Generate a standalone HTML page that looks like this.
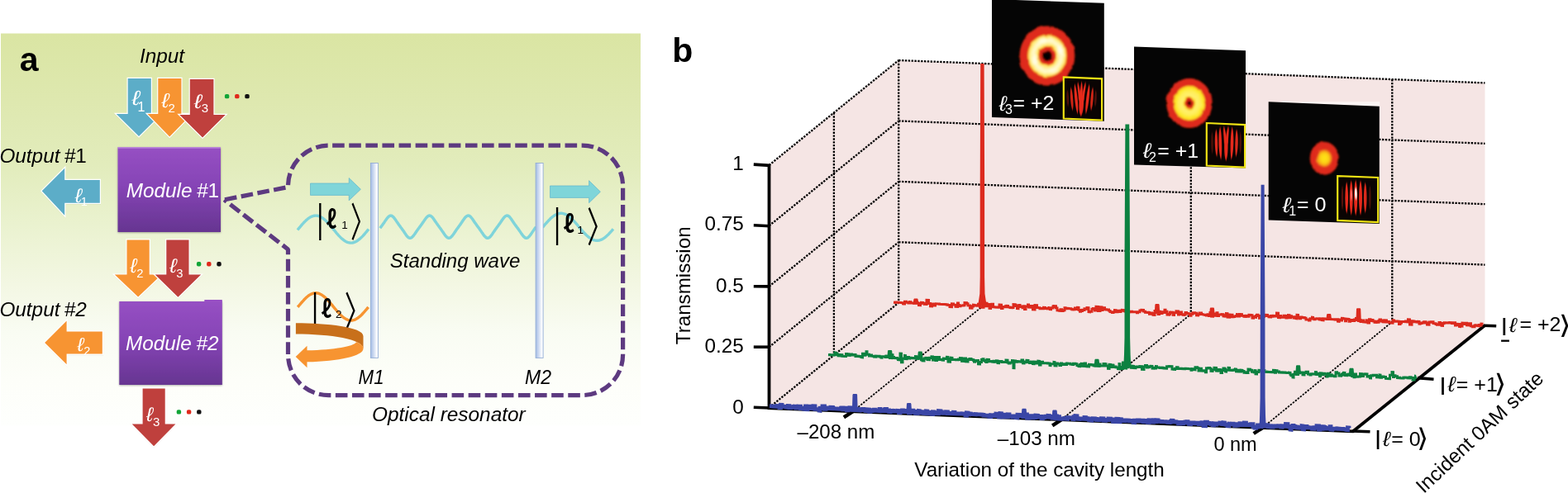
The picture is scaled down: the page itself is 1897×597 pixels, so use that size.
<!DOCTYPE html>
<html lang="en"><head><meta charset="utf-8"><title>Figure</title>
<style>
html,body{margin:0;padding:0;background:#fff;}
body{width:1897px;height:597px;overflow:hidden;}
svg{display:block;}
svg text{font-family:"Liberation Sans","DejaVu Sans",sans-serif;}
.ar{stroke:#fff;stroke-width:2.4;stroke-linejoin:miter;paint-order:stroke fill;}
</style></head><body>
<svg width="1897" height="597" viewBox="0 0 1897 597">
<defs>
<linearGradient id="bg" x1="0" y1="0" x2="0" y2="1">
 <stop offset="0" stop-color="#dae5a3"/>
 <stop offset="0.17" stop-color="#dee8af"/>
 <stop offset="0.336" stop-color="#e2ecbc"/>
 <stop offset="0.485" stop-color="#eaf2cf"/>
 <stop offset="0.641" stop-color="#f3f7e3"/>
 <stop offset="0.763" stop-color="#f9fcf3"/>
 <stop offset="0.883" stop-color="#fdfef9"/>
 <stop offset="1" stop-color="#fefffd"/>
</linearGradient>
<linearGradient id="mod" x1="0" y1="0" x2="0" y2="1">
 <stop offset="0" stop-color="#9650c3"/>
 <stop offset="0.45" stop-color="#8644b6"/>
 <stop offset="1" stop-color="#663591"/>
</linearGradient>
<linearGradient id="mir" x1="0" y1="0" x2="1" y2="0">
 <stop offset="0" stop-color="#a2bbe4"/>
 <stop offset="0.45" stop-color="#d3def3"/>
 <stop offset="0.85" stop-color="#ffffff"/>
 <stop offset="1" stop-color="#f2f6fc"/>
</linearGradient>
<filter id="sh" x="-20%" y="-20%" width="140%" height="140%">
 <feDropShadow dx="0" dy="0.6" stdDeviation="0.7" flood-color="#000" flood-opacity="0.07"/>
</filter>
<filter id="sh2" x="-20%" y="-20%" width="140%" height="140%">
 <feDropShadow dx="0" dy="0.8" stdDeviation="0.8" flood-color="#000" flood-opacity="0.35"/>
</filter>
<clipPath id="cl1"><rect x="78" y="217.8" width="43.4" height="28.2"/></clipPath>
<clipPath id="cl2"><rect x="80" y="401.4" width="43" height="26.8"/></clipPath>

<filter id="blur1" x="-20%" y="-20%" width="140%" height="140%"><feGaussianBlur stdDeviation="1.1"/></filter>
<filter id="blur2" x="-20%" y="-20%" width="140%" height="140%"><feGaussianBlur stdDeviation="0.55 1.0"/></filter>
<filter id="blur3" x="-50%" y="-50%" width="200%" height="200%"><feGaussianBlur stdDeviation="1.6"/></filter>
<filter id="rough" x="-15%" y="-15%" width="130%" height="130%">
 <feTurbulence type="fractalNoise" baseFrequency="0.13" numOctaves="2" seed="7" result="n"/>
 <feDisplacementMap in="SourceGraphic" in2="n" scale="3" xChannelSelector="R" yChannelSelector="G"/>
 <feGaussianBlur stdDeviation="0.9"/>
</filter>
<radialGradient id="g2" cx="0.5" cy="0.5" r="0.5">
 <stop offset="0" stop-color="#050202"/>
 <stop offset="0.15" stop-color="#080302"/>
 <stop offset="0.185" stop-color="#c81e0e"/>
 <stop offset="0.21" stop-color="#e02a1a"/>
 <stop offset="0.285" stop-color="#e02a1a"/>
 <stop offset="0.31" stop-color="#f59a28"/>
 <stop offset="0.335" stop-color="#ffe050"/>
 <stop offset="0.40" stop-color="#fff09a"/>
 <stop offset="0.50" stop-color="#fffad2"/>
 <stop offset="0.58" stop-color="#fff3a0"/>
 <stop offset="0.645" stop-color="#fee260"/>
 <stop offset="0.68" stop-color="#f7a52c"/>
 <stop offset="0.71" stop-color="#e02a1a"/>
 <stop offset="0.94" stop-color="#de2a1a"/>
 <stop offset="0.97" stop-color="#a81c10"/>
 <stop offset="1" stop-color="#200503" stop-opacity="0"/>
</radialGradient>
<radialGradient id="g1" cx="0.5" cy="0.5" r="0.5">
 <stop offset="0" stop-color="#0a0302"/>
 <stop offset="0.05" stop-color="#1a0403"/>
 <stop offset="0.09" stop-color="#c81e0e"/>
 <stop offset="0.18" stop-color="#e02a1a"/>
 <stop offset="0.205" stop-color="#f59a28"/>
 <stop offset="0.235" stop-color="#fde030"/>
 <stop offset="0.30" stop-color="#fff070"/>
 <stop offset="0.46" stop-color="#ffee58"/>
 <stop offset="0.58" stop-color="#fde828"/>
 <stop offset="0.64" stop-color="#fcd820"/>
 <stop offset="0.67" stop-color="#f59a28"/>
 <stop offset="0.70" stop-color="#e02a1a"/>
 <stop offset="0.93" stop-color="#de2a1a"/>
 <stop offset="0.96" stop-color="#a81c10"/>
 <stop offset="1" stop-color="#200503" stop-opacity="0"/>
</radialGradient>
<radialGradient id="g0" cx="0.5" cy="0.5" r="0.5">
 <stop offset="0" stop-color="#ffe414"/>
 <stop offset="0.25" stop-color="#fcd414"/>
 <stop offset="0.38" stop-color="#f8b018"/>
 <stop offset="0.47" stop-color="#f0701c"/>
 <stop offset="0.54" stop-color="#e02e1a"/>
 <stop offset="0.88" stop-color="#de2a1a"/>
 <stop offset="0.95" stop-color="#a81c10"/>
 <stop offset="1" stop-color="#200503" stop-opacity="0"/>
</radialGradient>
<clipPath id="ic1"><rect x="1288" y="95.5" width="44" height="49"/></clipPath>
<clipPath id="ic2"><rect x="1461" y="151" width="44" height="50"/></clipPath>
<clipPath id="ic3"><rect x="1619.4" y="215.5" width="46.6" height="52"/></clipPath>
</defs>
<g id="panel-a">
<rect x="1" y="40.5" width="774" height="475" fill="url(#bg)"/>
<text x="23.8" y="85.6" font-size="41" font-weight="bold">a</text>
<text x="169" y="76.4" font-size="24.3" font-style="italic">Input</text>
<g filter="url(#sh)">
<polygon class="ar" fill="#5badc8" points="154.7,95.0 182.8,95.0 182.8,138.0 195.3,138.0 168.0,165.0 140.7,138.0 154.7,138.0"/>
<polygon class="ar" fill="#f79431" points="191.3,95.0 219.4,95.0 219.4,138.0 232.0,138.0 205.2,165.5 178.5,138.0 191.3,138.0"/>
<polygon class="ar" fill="#bf403c" points="229.8,96.0 258.4,96.0 258.4,139.0 272.8,139.0 245.0,166.5 217.2,139.0 229.8,139.0"/>
</g>
<text transform="translate(159.40,127.05) scale(0.998,0.819)" style='font-family:"Liberation Sans","DejaVu Sans",sans-serif;font-style:italic' font-size="30" fill="#fff" >ℓ</text><text x="166.6" y="134.8" fill="#fff" font-size="16">1</text>
<text transform="translate(195.60,130.05) scale(0.923,0.819)" style='font-family:"Liberation Sans","DejaVu Sans",sans-serif;font-style:italic' font-size="30" fill="#fff" >ℓ</text><text x="203.6" y="135.5" fill="#fff" font-size="15">2</text>
<text transform="translate(234.80,130.86) scale(0.989,0.786)" style='font-family:"Liberation Sans","DejaVu Sans",sans-serif;font-style:italic' font-size="30" fill="#fff" >ℓ</text><text x="243.8" y="135.5" fill="#fff" font-size="15">3</text>
<rect x="271.9" y="113.9" width="5.4" height="5.4" rx="1.9" fill="#12a537"/><rect x="284.1" y="113.9" width="5.4" height="5.4" rx="1.9" fill="#e0291b"/><rect x="296.3" y="113.9" width="5.4" height="5.4" rx="1.9" fill="#111111"/>
<text x="-0.55" y="196.7" font-size="24.3" font-style="italic">Output</text><text x="77.7" y="196.7" font-size="24.3" font-style="italic">#<tspan font-style="normal">1</tspan></text>
<g filter="url(#sh)">
<polygon class="ar" fill="#5badc8" points="50.7,231.3 78.2,203.7 78.2,218.0 120.8,218.0 120.8,245.7 78.2,245.7 78.2,260.7"/>
</g>
<text transform="translate(90.70,245.15) scale(0.838,0.795)" style='font-family:"Liberation Sans","DejaVu Sans",sans-serif;font-style:italic' font-size="30" fill="#fff" >ℓ</text><text x="97.8" y="249.3" fill="#fff" font-size="14.5">1</text>
<rect x="142.5" y="178.3" width="124.5" height="102.7" fill="url(#mod)" filter="url(#sh2)"/>
<rect x="142.5" y="178.3" width="124.5" height="1.3" fill="#c08ee2"/>
<text x="152.75" y="239.4" fill="#fff" font-size="24.3" font-style="italic">Module</text><text x="237.9" y="239.4" fill="#fff" font-size="24.3" font-style="italic">#<tspan font-style="normal">1</tspan></text>
<g filter="url(#sh)">
<polygon class="ar" fill="#f79431" points="153.5,290.4 180.7,290.4 180.7,332.6 195.5,332.6 167.1,359.5 138.7,332.6 153.5,332.6"/>
<polygon class="ar" fill="#bf403c" points="201.3,290.4 228.5,290.4 228.5,332.6 243.2,332.6 215.4,359.8 187.6,332.6 201.3,332.6"/>
</g>
<text transform="translate(157.50,330.15) scale(0.819,0.814)" style='font-family:"Liberation Sans","DejaVu Sans",sans-serif;font-style:italic' font-size="30" fill="#fff" >ℓ</text><text x="165.3" y="335.7" fill="#fff" font-size="14.8">2</text>
<text transform="translate(205.30,330.15) scale(0.857,0.800)" style='font-family:"Liberation Sans","DejaVu Sans",sans-serif;font-style:italic' font-size="30" fill="#fff" >ℓ</text><text x="213.3" y="335.7" fill="#fff" font-size="14.8">3</text>
<rect x="237.9" y="317.1" width="5.4" height="5.4" rx="1.9" fill="#12a537"/><rect x="250.1" y="317.1" width="5.4" height="5.4" rx="1.9" fill="#e0291b"/><rect x="262.3" y="317.1" width="5.4" height="5.4" rx="1.9" fill="#111111"/>
<text x="-0.55" y="382.8" font-size="24.3" font-style="italic">Output</text><text x="77.7" y="382.8" font-size="24.3" font-style="italic">#2</text>
<g filter="url(#sh)">
<polygon class="ar" fill="#f79431" points="54.1,414.9 80.6,388.4 80.6,401.4 123.8,401.4 123.8,428.6 80.6,428.6 80.6,441.3"/>
</g>
<text transform="translate(93.60,424.66) scale(0.819,0.772)" style='font-family:"Liberation Sans","DejaVu Sans",sans-serif;font-style:italic' font-size="30" fill="#fff" >ℓ</text><text x="101.3" y="430.0" fill="#fff" font-size="14.5">2</text>
<rect x="144.3" y="365" width="124.5" height="101" fill="url(#mod)" filter="url(#sh2)"/>
<rect x="247.3" y="363" width="21.5" height="3" fill="#9850c4"/>
<text x="152.05" y="423.8" fill="#fff" font-size="24.3" font-style="italic">Module</text><text x="237.4" y="423.8" fill="#fff" font-size="24.3" font-style="italic">#2</text>
<g filter="url(#sh)">
<polygon class="ar" fill="#bf403c" points="172.6,470.6 199.7,470.6 199.7,513.5 212.4,513.5 186.1,540.3 159.7,513.5 172.6,513.5"/>
</g>
<text transform="translate(176.90,509.75) scale(0.819,0.795)" style='font-family:"Liberation Sans","DejaVu Sans",sans-serif;font-style:italic' font-size="30" fill="#fff" >ℓ</text><text x="185.1" y="515.9" fill="#fff" font-size="15">3</text>
<rect x="213.7" y="496.2" width="5.4" height="5.4" rx="1.9" fill="#12a537"/><rect x="225.9" y="496.2" width="5.4" height="5.4" rx="1.9" fill="#e0291b"/><rect x="238.1" y="496.2" width="5.4" height="5.4" rx="1.9" fill="#111111"/>
<path d="M271.3,241.9 L348.5,226.5 L348.5,225.2 A49,49 0 0 1 397.5,176.2 L704.6,176.2 A49,49 0 0 1 753.6,225.2 L753.6,429.6 A49,49 0 0 1 704.6,478.6 L397.5,478.6 A49,49 0 0 1 348.5,429.6 L348.5,302 Z" fill="none" stroke="#5d3a80" stroke-width="5.2" stroke-dasharray="14.6 5.5" stroke-dashoffset="19.4" stroke-linejoin="bevel"/>
<polyline fill="none" stroke="#7fd4da" stroke-width="3.4" stroke-linejoin="round" points="360.0,278.5 361.0,277.2 362.0,276.0 363.0,274.9 364.0,273.7 364.9,272.5 365.9,271.4 366.9,270.3 367.9,269.2 368.9,268.2 369.9,267.3 370.9,266.3 371.9,265.5 372.9,264.7 373.8,264.0 374.8,263.4 375.8,262.8 376.8,262.3 377.8,261.9 378.8,261.6 379.8,261.3 380.8,261.2 381.7,261.1 382.7,261.1 383.7,261.2 384.7,261.4 385.7,261.7 386.7,262.1 387.7,262.5 388.7,263.1 389.7,263.7 390.6,264.3 391.6,265.1 392.6,265.9 393.6,266.8 394.6,267.7 395.6,268.7 396.6,269.7 397.6,270.8 398.6,271.9 399.5,273.1 400.5,274.3 401.5,275.4 402.5,276.6 403.5,277.8 404.5,279.0 405.5,280.2 406.5,281.4 407.4,282.6 408.4,283.7 409.4,284.8 410.4,285.9 411.4,286.9 412.4,287.9 413.4,288.8 414.4,289.6 415.4,290.4 416.3,291.1 417.3,291.8 418.3,292.4 419.3,292.9 420.3,293.3 421.3,293.6 422.3,293.9 423.3,294.0 424.3,294.1 425.2,294.1 426.2,294.0 427.2,293.8 428.2,293.5 429.2,293.2 430.2,292.7 431.2,292.2 432.2,291.6 433.1,290.9 434.1,290.2 435.1,289.4 436.1,288.5 437.1,287.6 438.1,286.6 439.1,285.6 440.1,284.5 441.1,283.4 442.0,282.2 443.0,281.1 444.0,279.9 445.0,278.7 446.0,277.5"/>
<polyline fill="none" stroke="#7fd4da" stroke-width="3.5" stroke-linejoin="round" points="459.8,276.3 460.8,274.9 461.8,273.6 462.8,272.2 463.8,270.8 464.8,269.4 465.8,267.9 466.8,266.4 467.8,265.0 468.8,263.7 469.8,262.6 470.8,261.8 471.8,261.3 472.8,261.1 473.8,261.3 474.8,261.9 475.8,262.8 476.8,263.9 477.8,265.2 478.8,266.6 479.8,268.1 480.8,269.6 481.8,271.0 482.8,272.4 483.8,273.8 484.8,275.2 485.8,276.5 486.8,277.9 487.8,279.3 488.8,280.8 489.8,282.3 490.8,283.7 491.7,285.1 492.7,286.3 493.7,287.3 494.7,287.9 495.7,288.3 496.7,288.2 497.7,287.8 498.7,287.1 499.7,286.1 500.7,284.8 501.7,283.5 502.7,282.0 503.7,280.5 504.7,279.1 505.7,277.6 506.7,276.3 507.7,274.9 508.7,273.6 509.7,272.2 510.7,270.8 511.7,269.3 512.7,267.9 513.7,266.4 514.7,265.0 515.7,263.7 516.7,262.6 517.7,261.8 518.7,261.2 519.7,261.1 520.7,261.3 521.7,261.9 522.7,262.8 523.7,263.9 524.7,265.2 525.7,266.7 526.7,268.2 527.7,269.6 528.7,271.1 529.7,272.5 530.7,273.8 531.7,275.2 532.7,276.5 533.7,277.9 534.7,279.4 535.7,280.8 536.7,282.3 537.7,283.8 538.7,285.1 539.7,286.3 540.7,287.3 541.7,287.9 542.7,288.3 543.7,288.2 544.7,287.8 545.7,287.1 546.7,286.1 547.7,284.8 548.7,283.4 549.7,282.0 550.7,280.5 551.7,279.0 552.7,277.6 553.7,276.2 554.6,274.9 555.6,273.5 556.6,272.2 557.6,270.7 558.6,269.3 559.6,267.8 560.6,266.3 561.6,264.9 562.6,263.6 563.6,262.6 564.6,261.7 565.6,261.2 566.6,261.1 567.6,261.3 568.6,261.9 569.6,262.8 570.6,264.0 571.6,265.3 572.6,266.7 573.6,268.2 574.6,269.7 575.6,271.1 576.6,272.5 577.6,273.9 578.6,275.2 579.6,276.6 580.6,278.0 581.6,279.4 582.6,280.9 583.6,282.3 584.6,283.8 585.6,285.2 586.6,286.3 587.6,287.3 588.6,288.0 589.6,288.3 590.6,288.2 591.6,287.8 592.6,287.1 593.6,286.0 594.6,284.8 595.6,283.4 596.6,281.9 597.6,280.4 598.6,279.0 599.6,277.6 600.6,276.2 601.6,274.8 602.6,273.5 603.6,272.1 604.6,270.7 605.6,269.3 606.6,267.8 607.6,266.3 608.6,264.9 609.6,263.6 610.6,262.5 611.6,261.7 612.6,261.2 613.6,261.1 614.6,261.3 615.6,261.9 616.6,262.8 617.5,264.0 618.5,265.3 619.5,266.8 620.5,268.2 621.5,269.7 622.5,271.2 623.5,272.6 624.5,273.9 625.5,275.3 626.5,276.6 627.5,278.0 628.5,279.4 629.5,280.9 630.5,282.4 631.5,283.8 632.5,285.2 633.5,286.4 634.5,287.3 635.5,288.0 636.5,288.3 637.5,288.2 638.5,287.8 639.5,287.0 640.5,286.0 641.5,284.7 642.5,283.4 643.5,281.9 644.5,280.4 645.5,278.9 646.5,277.5 647.5,276.1 648.5,274.8"/>
<polyline fill="none" stroke="#7fd4da" stroke-width="3.4" stroke-linejoin="round" points="656.5,275.3 657.5,274.1 658.5,272.9 659.5,271.7 660.5,270.6 661.5,269.5 662.5,268.4 663.5,267.3 664.5,266.3 665.4,265.3 666.4,264.3 667.4,263.4 668.4,262.6 669.4,261.9 670.4,261.2 671.4,260.5 672.4,260.0 673.4,259.5 674.4,259.1 675.4,258.8 676.4,258.5 677.4,258.4 678.4,258.3 679.4,258.3 680.4,258.4 681.4,258.6 682.3,258.9 683.3,259.2 684.3,259.6 685.3,260.1 686.3,260.7 687.3,261.4 688.3,262.1 689.3,262.9 690.3,263.7 691.3,264.6 692.3,265.6 693.3,266.6 694.3,267.6 695.3,268.7 696.3,269.8 697.3,271.0 698.3,272.1 699.2,273.3 700.2,274.5 701.2,275.7 702.2,276.9 703.2,278.0 704.2,279.2 705.2,280.3 706.2,281.4 707.2,282.5 708.2,283.5 709.2,284.5 710.2,285.4 711.2,286.3 712.2,287.1 713.2,287.9 714.2,288.5 715.2,289.2 716.2,289.7 717.1,290.2 718.1,290.6 719.1,290.9 720.1,291.1 721.1,291.2 722.1,291.3 723.1,291.3 724.1,291.2 725.1,291.0 726.1,290.7 727.1,290.3 728.1,289.9 729.1,289.4 730.1,288.8 731.1,288.1 732.1,287.4 733.1,286.6 734.0,285.7 735.0,284.8 736.0,283.9 737.0,282.8 738.0,281.8 739.0,280.7 740.0,279.6 741.0,278.4 742.0,277.3"/>
<polyline fill="none" stroke="#f79431" stroke-width="3.4" stroke-linejoin="round" points="360.2,371.9 361.2,370.7 362.2,369.5 363.2,368.3 364.2,367.1 365.2,366.0 366.2,364.9 367.2,363.8 368.1,362.7 369.1,361.7 370.1,360.7 371.1,359.8 372.1,359.0 373.1,358.2 374.1,357.5 375.1,356.9 376.1,356.3 377.1,355.9 378.1,355.5 379.1,355.2 380.1,355.0 381.1,354.8 382.0,354.8 383.0,354.8 384.0,355.0 385.0,355.2 386.0,355.5 387.0,355.9 388.0,356.4 389.0,357.0 390.0,357.6 391.0,358.3 392.0,359.1 393.0,359.9 394.0,360.8 395.0,361.8 395.9,362.8 396.9,363.9 397.9,365.0 398.9,366.1 399.9,367.3 400.9,368.4 401.9,369.6 402.9,370.9 403.9,372.1 404.9,373.3 405.9,374.5 406.9,375.7 407.9,376.8 408.9,377.9 409.9,379.0 410.8,380.1 411.8,381.1 412.8,382.1 413.8,383.0 414.8,383.8 415.8,384.6 416.8,385.3 417.8,385.9 418.8,386.5 419.8,386.9 420.8,387.3 421.8,387.6 422.8,387.8 423.8,388.0 424.7,388.0 425.7,388.0 426.7,387.8 427.7,387.6 428.7,387.3 429.7,386.9 430.7,386.4 431.7,385.8 432.7,385.2 433.7,384.5 434.7,383.7 435.7,382.9 436.7,382.0 437.7,381.0 438.6,380.0 439.6,378.9 440.6,377.8 441.6,376.7 442.6,375.5 443.6,374.4 444.6,373.2 445.6,371.9"/>
<rect x="448.4" y="197.5" width="9.0" height="235.9" fill="url(#mir)" stroke="#94add6" stroke-width="0.9"/>
<rect x="648.1" y="197.5" width="9.0" height="235.9" fill="url(#mir)" stroke="#94add6" stroke-width="0.9"/>
<polygon fill="#7fd5d9" stroke="#62b4cc" stroke-width="0.7" points="375.5,222.0 422.2,222.0 422.2,215.6 436.4,229.2 422.2,242.8 422.2,236.4 375.5,236.4"/>
<polygon fill="#7fd5d9" stroke="#62b4cc" stroke-width="0.7" points="665.5,225.0 712.6,225.0 712.6,218.7 726.4,232.2 712.6,245.7 712.6,239.4 665.5,239.4"/>
<text transform="translate(383.61,280.51) scale(0.978,1.614)" style='font-family:"Liberation Sans",sans-serif' font-size="30" fill="#000" >|</text><text transform="translate(394.60,276.70) scale(0.800,0.994)" style='font-family:"Noto Sans CJK JP","Noto Sans CJK SC","DejaVu Sans",sans-serif;font-weight:bold' font-size="30" fill="#000" >ℓ</text><text x="413.2" y="276.6" font-size="13.5">1</text><text transform="translate(423.93,286.53) scale(0.977,1.629)" style='font-family:"Noto Sans CJK JP","Noto Sans CJK SC","WenQuanYi Zen Hei",sans-serif' font-size="30" fill="#000" >〉</text>
<text transform="translate(670.21,286.53) scale(0.978,1.643)" style='font-family:"Liberation Sans",sans-serif' font-size="30" fill="#000" >|</text><text transform="translate(681.58,282.31) scale(0.840,0.978)" style='font-family:"Noto Sans CJK JP","Noto Sans CJK SC","DejaVu Sans",sans-serif;font-weight:bold' font-size="30" fill="#000" >ℓ</text><text x="698.4" y="282.6" font-size="13.5">1</text><text transform="translate(709.94,292.66) scale(1.042,1.658)" style='font-family:"Noto Sans CJK JP","Noto Sans CJK SC","WenQuanYi Zen Hei",sans-serif' font-size="30" fill="#000" >〉</text>
<text transform="translate(377.21,389.02) scale(0.978,1.596)" style='font-family:"Liberation Sans",sans-serif' font-size="30" fill="#000" >|</text><text transform="translate(388.60,385.02) scale(0.800,0.958)" style='font-family:"Noto Sans CJK JP","Noto Sans CJK SC","DejaVu Sans",sans-serif;font-weight:bold' font-size="30" fill="#000" >ℓ</text><text x="406.0" y="384.5" font-size="13.5">2</text><text transform="translate(416.84,395.43) scale(1.042,1.629)" style='font-family:"Noto Sans CJK JP","Noto Sans CJK SC","WenQuanYi Zen Hei",sans-serif' font-size="30" fill="#000" >〉</text>
<path d="M357.9,391.3 C395,391.3 439.5,396 439.5,407 L439.5,422.2 C439.5,411 400,404.6 357.9,404.6 Z" fill="#c8701b"/>
<path d="M439.5,407.5 L439.5,422.2 C439.5,431 410,437.5 371.5,438.3 L371.5,445.2 L357.7,432 L371.5,418.8 L371.5,424.3 C405,423.5 428,419.5 431,414.2 C435,415.5 439.5,418 439.5,422 Z" fill="#f79431"/>
<text x="471.8" y="323.8" font-size="24.3" font-style="italic" textLength="157.5" lengthAdjust="spacingAndGlyphs">Standing wave</text>
<text x="433.6" y="464.8" font-size="24.3" font-style="italic" textLength="31" lengthAdjust="spacingAndGlyphs">M1</text>
<text x="635" y="464.8" font-size="24.3" font-style="italic" textLength="32" lengthAdjust="spacingAndGlyphs">M2</text>
<text x="450" y="510" font-size="24.3" font-style="italic" textLength="185.7" lengthAdjust="spacingAndGlyphs">Optical resonator</text>
</g>
<g id="panel-b">
<text x="813.3" y="74.9" font-size="41" font-weight="bold">b</text>
<polygon fill="#f5e5e4" points="930.5,200.0 1087.2,73.0 1796.5,100.4 1796.5,394.0 1637.0,521.7 930.5,493.6"/>
<line x1="930.5" y1="200.0" x2="1087.2" y2="73.0" stroke="#000" stroke-width="2.3" stroke-dasharray="2.35 1.5"/>
<line x1="930.5" y1="273.4" x2="1087.2" y2="146.4" stroke="#000" stroke-width="2.3" stroke-dasharray="2.35 1.5"/>
<line x1="930.5" y1="346.8" x2="1087.2" y2="219.8" stroke="#000" stroke-width="2.3" stroke-dasharray="2.35 1.5"/>
<line x1="930.5" y1="420.2" x2="1087.2" y2="293.2" stroke="#000" stroke-width="2.3" stroke-dasharray="2.35 1.5"/>
<line x1="930.5" y1="493.6" x2="1087.2" y2="366.6" stroke="#000" stroke-width="2.3" stroke-dasharray="2.35 1.5"/>
<line x1="1008.9" y1="136.5" x2="1008.9" y2="430.1" stroke="#000" stroke-width="2.3" stroke-dasharray="2.35 1.5"/>
<line x1="1087.2" y1="73.0" x2="1087.2" y2="366.6" stroke="#000" stroke-width="2.3" stroke-dasharray="2.35 1.5"/>
<line x1="1087.2" y1="73.0" x2="1796.5" y2="100.4" stroke="#000" stroke-width="2.3" stroke-dasharray="2.35 1.5"/>
<line x1="1087.2" y1="146.4" x2="1796.5" y2="173.8" stroke="#000" stroke-width="2.3" stroke-dasharray="2.35 1.5"/>
<line x1="1087.2" y1="219.8" x2="1796.5" y2="247.2" stroke="#000" stroke-width="2.3" stroke-dasharray="2.35 1.5"/>
<line x1="1087.2" y1="293.2" x2="1796.5" y2="320.6" stroke="#000" stroke-width="2.3" stroke-dasharray="2.35 1.5"/>
<line x1="1440.8" y1="86.7" x2="1440.8" y2="380.3" stroke="#000" stroke-width="2.3" stroke-dasharray="2.35 1.5"/>
<line x1="1684.3" y1="96.1" x2="1684.3" y2="389.7" stroke="#000" stroke-width="2.3" stroke-dasharray="2.35 1.5"/>
<line x1="1032.4" y1="497.7" x2="1189.2" y2="370.5" stroke="#000" stroke-width="1.8" stroke-dasharray="2.35 1.5"/>
<line x1="1284.7" y1="507.7" x2="1440.8" y2="380.3" stroke="#000" stroke-width="1.8" stroke-dasharray="2.35 1.5"/>
<line x1="1528.2" y1="517.4" x2="1684.3" y2="389.7" stroke="#000" stroke-width="1.8" stroke-dasharray="2.35 1.5"/>
<polyline fill="none" stroke="#000" stroke-width="3.8" stroke-linejoin="miter" points="930.5,200.0 930.5,494.2 1637.0,522.3 1796.5,394.0"/>
<line x1="931.5" y1="200.4" x2="911.8" y2="199.1" stroke="#000" stroke-width="3.6"/>
<line x1="931.5" y1="273.7" x2="911.8" y2="272.7" stroke="#000" stroke-width="3.6"/>
<line x1="931.5" y1="346.9" x2="911.8" y2="346.7" stroke="#000" stroke-width="3.6"/>
<line x1="931.5" y1="420.2" x2="911.8" y2="420.2" stroke="#000" stroke-width="3.6"/>
<line x1="931.5" y1="494.0" x2="911.8" y2="493.2" stroke="#000" stroke-width="3.6"/>
<line x1="1033.9" y1="496.9" x2="1020.9" y2="505.3" stroke="#000" stroke-width="4.4"/>
<line x1="1286.2" y1="506.9" x2="1273.2" y2="515.3" stroke="#000" stroke-width="4.4"/>
<line x1="1529.7" y1="516.6" x2="1516.7" y2="525.0" stroke="#000" stroke-width="4.4"/>
<line x1="1636.0" y1="522.0" x2="1657.5" y2="522.7" stroke="#000" stroke-width="3.6"/>
<line x1="1715.0" y1="457.6" x2="1734.5" y2="459.2" stroke="#000" stroke-width="3.6"/>
<line x1="1795.0" y1="394.3" x2="1810.2" y2="394.7" stroke="#000" stroke-width="3.6"/>
<polyline fill="none" stroke="#dc2a1e" stroke-width="3" stroke-linejoin="miter" stroke-miterlimit="1.6" stroke-linecap="butt" points="1081.0,366.2 1083.0,366.3 1083.0,366.1 1085.0,366.2 1085.0,366.1 1087.5,366.2 1087.5,366.3 1090.0,366.4 1090.0,366.5 1092.5,366.6 1092.5,367.7 1093.5,367.7 1093.5,368.0 1094.5,368.0 1094.5,365.3 1096.5,365.3 1096.5,366.1 1099.0,366.2 1099.0,367.0 1100.5,367.0 1100.5,365.5 1102.0,365.6 1102.0,366.8 1104.0,366.9 1104.0,366.9 1105.5,367.0 1105.5,367.2 1108.0,367.3 1108.0,367.2 1109.0,367.2 1109.0,366.8 1110.5,366.8 1110.5,367.2 1111.5,367.2 1111.5,369.5 1113.5,369.6 1113.5,367.6 1114.5,367.6 1114.5,366.4 1116.5,366.5 1116.5,367.0 1118.0,367.1 1118.0,368.3 1120.0,368.4 1120.0,368.3 1121.0,368.4 1121.0,363.3 1123.5,363.4 1123.5,367.5 1125.5,367.5 1125.5,370.8 1127.5,370.9 1127.5,367.9 1130.0,368.0 1130.0,370.0 1131.5,370.0 1131.5,368.0 1132.5,368.0 1132.5,367.9 1134.0,368.0 1134.0,368.1 1135.5,368.1 1135.5,368.0 1136.5,368.0 1136.5,368.3 1139.0,368.4 1139.0,368.3 1140.0,368.4 1140.0,368.4 1141.5,368.4 1141.5,368.6 1143.0,368.6 1143.0,368.6 1145.0,368.7 1145.0,368.9 1146.5,368.9 1146.5,369.4 1149.0,369.5 1149.0,371.6 1151.5,371.7 1151.5,367.8 1153.5,367.9 1153.5,369.0 1156.0,369.1 1156.0,371.3 1158.5,371.4 1158.5,366.9 1159.5,366.9 1159.5,369.4 1160.5,369.4 1160.5,370.5 1162.0,370.6 1162.0,369.8 1163.0,369.9 1163.0,369.9 1165.5,370.0 1165.5,369.8 1167.0,369.8 1167.0,366.5 1169.5,366.6 1169.5,367.7 1171.0,367.7 1171.0,370.0 1172.0,370.1 1172.0,369.8 1173.5,369.9 1173.5,373.0 1176.0,373.1 1176.0,370.7 1177.5,370.8 1177.5,369.2 1179.0,369.3 1179.0,369.9 1180.0,370.0 1180.0,369.7 1182.5,369.8 1182.5,370.1 1183.5,370.2 1183.5,368.2 1185.5,368.2 1185.5,371.7 1187.5,371.8 1187.5,372.2 1190.0,372.3 1190.0,370.6 1191.5,370.7 1191.5,367.1 1194.0,367.2 1194.0,370.7 1195.5,370.8 1195.5,368.6 1197.0,368.6 1197.0,373.4 1198.5,373.5 1198.5,371.4 1200.0,371.5 1200.0,368.3 1201.5,368.3 1201.5,371.6 1203.0,371.7 1203.0,371.8 1204.0,371.9 1204.0,372.1 1205.5,372.2 1205.5,372.0 1207.5,372.0 1207.5,372.1 1209.0,372.2 1209.0,369.2 1210.0,369.3 1210.0,369.1 1211.5,369.2 1211.5,373.6 1213.0,373.6 1213.0,371.5 1214.5,371.5 1214.5,371.6 1216.5,371.7 1216.5,370.9 1218.0,371.0 1218.0,370.4 1219.5,370.5 1219.5,371.9 1222.0,372.0 1222.0,372.6 1224.5,372.7 1224.5,372.5 1226.0,372.5 1226.0,368.5 1228.0,368.6 1228.0,368.9 1229.0,369.0 1229.0,370.5 1230.5,370.5 1230.5,373.6 1232.0,373.7 1232.0,369.9 1233.0,369.9 1233.0,369.4 1234.0,369.4 1234.0,371.4 1235.0,371.4 1235.0,370.9 1237.0,371.0 1237.0,372.7 1238.5,372.7 1238.5,370.8 1239.5,370.8 1239.5,374.5 1241.0,374.5 1241.0,370.9 1243.5,371.0 1243.5,369.0 1244.5,369.0 1244.5,372.1 1247.0,372.2 1247.0,370.4 1249.5,370.4 1249.5,374.9 1252.0,375.0 1252.0,369.5 1254.5,369.6 1254.5,372.5 1255.5,372.5 1255.5,372.6 1258.0,372.7 1258.0,373.7 1260.5,373.7 1260.5,373.5 1262.5,373.6 1262.5,372.3 1264.5,372.4 1264.5,373.3 1266.5,373.4 1266.5,373.9 1268.5,374.0 1268.5,372.9 1269.5,373.0 1269.5,372.7 1270.5,372.8 1270.5,374.6 1271.5,374.7 1271.5,372.9 1274.0,373.0 1274.0,371.2 1275.0,371.3 1275.0,370.6 1277.5,370.7 1277.5,372.9 1279.0,373.0 1279.0,375.9 1281.5,376.0 1281.5,376.3 1283.0,376.4 1283.0,374.8 1284.5,374.8 1284.5,376.4 1285.5,376.4 1285.5,376.3 1286.5,376.3 1286.5,375.6 1288.0,375.7 1288.0,372.8 1289.0,372.8 1289.0,373.5 1290.5,373.6 1290.5,373.8 1292.0,373.8 1292.0,373.3 1293.0,373.4 1293.0,373.5 1295.5,373.6 1295.5,374.0 1297.0,374.1 1297.0,374.8 1298.5,374.9 1298.5,374.8 1300.5,374.8 1300.5,373.0 1302.5,373.0 1302.5,374.5 1303.5,374.5 1303.5,372.3 1305.0,372.4 1305.0,375.4 1306.5,375.5 1306.5,377.3 1307.5,377.3 1307.5,376.3 1309.5,376.4 1309.5,375.3 1312.0,375.4 1312.0,373.9 1313.5,374.0 1313.5,374.2 1315.0,374.2 1315.0,372.7 1317.0,372.8 1317.0,377.7 1318.5,377.8 1318.5,377.1 1321.0,377.2 1321.0,374.3 1322.5,374.3 1322.5,373.7 1324.5,373.8 1324.5,376.1 1326.0,376.1 1326.0,371.3 1328.5,371.4 1328.5,376.6 1330.5,376.6 1330.5,376.0 1331.5,376.0 1331.5,371.8 1333.0,371.9 1333.0,375.6 1334.0,375.6 1334.0,374.0 1335.0,374.0 1335.0,372.6 1336.5,372.7 1336.5,374.6 1338.5,374.7 1338.5,375.1 1340.0,375.2 1340.0,374.9 1341.5,374.9 1341.5,376.2 1343.0,376.3 1343.0,377.6 1345.5,377.7 1345.5,378.4 1347.0,378.4 1347.0,377.7 1348.5,377.7 1348.5,375.5 1350.0,375.6 1350.0,377.5 1352.0,377.6 1352.0,376.2 1353.0,376.3 1353.0,376.0 1354.5,376.1 1354.5,377.3 1356.0,377.4 1356.0,376.1 1357.5,376.2 1357.5,375.4 1359.0,375.5 1359.0,375.5 1360.5,375.6 1360.5,376.8 1362.0,376.9 1362.0,377.4 1364.5,377.5 1364.5,378.1 1366.0,378.2 1366.0,377.6 1367.5,377.6 1367.5,377.3 1369.5,377.3 1369.5,377.8 1371.0,377.8 1371.0,377.5 1373.5,377.6 1373.5,377.7 1375.5,377.8 1375.5,378.8 1376.5,378.8 1376.5,377.7 1379.0,377.8 1379.0,376.0 1381.0,376.0 1381.0,375.3 1383.5,375.4 1383.5,377.0 1385.5,377.1 1385.5,378.4 1387.5,378.5 1387.5,378.2 1389.5,378.3 1389.5,378.5 1390.5,378.5 1390.5,380.2 1392.0,380.2 1392.0,379.0 1393.5,379.0 1393.5,379.2 1395.0,379.3 1395.0,381.3 1397.0,381.4 1397.0,376.5 1399.0,376.6 1399.0,375.5 1401.0,375.6 1401.0,380.5 1402.5,380.5 1402.5,377.3 1403.5,377.3 1403.5,379.4 1406.0,379.5 1406.0,377.8 1407.5,377.8 1407.5,378.3 1409.0,378.4 1409.0,375.2 1410.0,375.2 1410.0,377.2 1412.0,377.2 1412.0,381.0 1414.5,381.1 1414.5,380.1 1415.5,380.2 1415.5,378.3 1416.5,378.4 1416.5,378.1 1419.0,378.2 1419.0,381.3 1420.5,381.4 1420.5,378.7 1423.0,378.8 1423.0,376.9 1425.5,377.0 1425.5,380.9 1426.5,380.9 1426.5,378.2 1428.5,378.3 1428.5,378.1 1429.5,378.1 1429.5,380.6 1431.0,380.7 1431.0,381.4 1432.5,381.5 1432.5,380.9 1434.0,381.0 1434.0,378.6 1435.5,378.6 1435.5,379.8 1437.0,379.8 1437.0,379.5 1438.0,379.6 1438.0,380.1 1439.5,380.1 1439.5,382.3 1441.0,382.3 1441.0,380.0 1443.0,380.1 1443.0,378.7 1445.5,378.8 1445.5,379.1 1447.5,379.2 1447.5,381.8 1449.5,381.9 1449.5,380.8 1451.0,380.8 1451.0,379.0 1453.5,379.0 1453.5,380.5 1454.5,380.5 1454.5,380.7 1456.0,380.8 1456.0,381.0 1458.0,381.1 1458.0,381.4 1459.5,381.4 1459.5,381.9 1461.0,381.9 1461.0,380.7 1462.5,380.7 1462.5,382.4 1464.0,382.4 1464.0,378.6 1465.5,378.6 1465.5,383.1 1467.5,383.2 1467.5,382.2 1470.0,382.3 1470.0,380.0 1472.0,380.1 1472.0,378.8 1473.0,378.8 1473.0,382.5 1474.5,382.5 1474.5,381.0 1477.0,381.1 1477.0,381.1 1478.0,381.1 1478.0,380.7 1480.0,380.8 1480.0,382.9 1481.0,383.0 1481.0,381.6 1482.5,381.7 1482.5,382.9 1483.5,382.9 1483.5,379.6 1485.0,379.7 1485.0,384.1 1487.5,384.2 1487.5,381.0 1488.5,381.1 1488.5,383.6 1489.5,383.7 1489.5,381.2 1491.0,381.2 1491.0,383.8 1492.0,383.8 1492.0,383.2 1493.5,383.3 1493.5,382.9 1495.5,383.0 1495.5,382.6 1496.5,382.7 1496.5,380.5 1498.0,380.6 1498.0,383.0 1499.5,383.0 1499.5,380.5 1501.0,380.6 1501.0,380.6 1502.5,380.7 1502.5,382.3 1505.0,382.4 1505.0,383.4 1507.0,383.5 1507.0,382.3 1509.5,382.4 1509.5,383.3 1511.0,383.3 1511.0,381.3 1513.5,381.4 1513.5,381.6 1515.0,381.7 1515.0,385.0 1516.5,385.1 1516.5,383.3 1518.0,383.3 1518.0,384.2 1519.5,384.3 1519.5,382.4 1520.5,382.4 1520.5,381.2 1522.0,381.2 1522.0,382.6 1523.5,382.6 1523.5,385.2 1525.0,385.2 1525.0,385.2 1526.5,385.2 1526.5,382.7 1528.0,382.8 1528.0,383.2 1529.5,383.2 1529.5,382.2 1531.0,382.3 1531.0,381.3 1533.5,381.4 1533.5,382.7 1535.0,382.8 1535.0,383.8 1537.5,383.9 1537.5,382.5 1539.0,382.5 1539.0,383.2 1540.0,383.2 1540.0,382.4 1542.0,382.5 1542.0,382.9 1544.5,383.0 1544.5,379.1 1546.5,379.2 1546.5,384.5 1548.5,384.6 1548.5,382.3 1549.5,382.4 1549.5,383.9 1550.5,383.9 1550.5,384.0 1553.0,384.1 1553.0,382.3 1554.5,382.3 1554.5,382.7 1556.0,382.7 1556.0,385.0 1557.0,385.0 1557.0,382.5 1558.5,382.5 1558.5,381.5 1560.0,381.6 1560.0,384.5 1561.5,384.6 1561.5,382.7 1562.5,382.7 1562.5,383.5 1565.0,383.6 1565.0,385.1 1566.0,385.2 1566.0,383.7 1568.0,383.7 1568.0,385.7 1569.0,385.8 1569.0,381.4 1570.5,381.5 1570.5,385.0 1572.5,385.1 1572.5,385.8 1573.5,385.8 1573.5,383.9 1575.0,383.9 1575.0,384.5 1577.5,384.6 1577.5,384.5 1578.5,384.6 1578.5,385.0 1580.0,385.1 1580.0,386.9 1581.5,386.9 1581.5,386.8 1583.5,386.9 1583.5,388.1 1585.0,388.1 1585.0,385.9 1587.5,386.0 1587.5,384.2 1588.5,384.3 1588.5,386.1 1590.0,386.2 1590.0,386.7 1591.0,386.7 1591.0,385.9 1593.5,386.0 1593.5,385.8 1596.0,385.9 1596.0,386.9 1597.0,387.0 1597.0,385.9 1599.5,386.0 1599.5,387.7 1601.0,387.8 1601.0,385.9 1603.0,386.0 1603.0,386.2 1604.0,386.3 1604.0,386.2 1605.5,386.3 1605.5,386.4 1607.5,386.5 1607.5,386.3 1610.0,386.4 1610.0,386.6 1612.5,386.7 1612.5,386.5 1615.0,386.6 1615.0,387.0 1616.5,387.1 1616.5,386.7 1618.5,386.7 1618.5,389.2 1620.0,389.3 1620.0,386.8 1622.5,386.9 1622.5,388.0 1623.5,388.0 1623.5,385.4 1625.0,385.5 1625.0,385.8 1627.5,385.9 1627.5,388.8 1628.5,388.8 1628.5,386.1 1630.0,386.2 1630.0,386.4 1632.0,386.5 1632.0,389.3 1633.5,389.3 1633.5,387.4 1636.0,387.5 1636.0,388.4 1638.5,388.5 1638.5,386.9 1640.5,386.9 1640.5,385.5 1642.0,385.5 1642.0,385.3 1643.5,385.4 1643.5,388.5 1645.0,388.5 1645.0,387.4 1646.0,387.4 1646.0,389.4 1647.0,389.4 1647.0,387.9 1649.5,388.0 1649.5,389.9 1651.5,390.0 1651.5,390.1 1653.0,390.2 1653.0,387.9 1655.0,388.0 1655.0,390.9 1656.5,390.9 1656.5,386.7 1658.0,386.7 1658.0,388.6 1659.5,388.6 1659.5,387.4 1661.0,387.4 1661.0,388.8 1663.0,388.9 1663.0,390.2 1665.0,390.3 1665.0,389.0 1666.5,389.1 1666.5,390.1 1668.0,390.2 1668.0,388.6 1669.0,388.7 1669.0,387.0 1670.5,387.0 1670.5,389.0 1672.0,389.0 1672.0,388.1 1673.0,388.1 1673.0,389.8 1675.0,389.9 1675.0,387.8 1677.5,387.9 1677.5,389.9 1680.0,390.0 1680.0,389.4 1681.0,389.5 1681.0,390.8 1683.0,390.9 1683.0,391.1 1685.0,391.2 1685.0,387.8 1686.5,387.9 1686.5,389.1 1689.0,389.2 1689.0,388.9 1690.5,389.0 1690.5,389.1 1692.5,389.2 1692.5,392.4 1694.0,392.4 1694.0,390.9 1695.5,391.0 1695.5,389.4 1697.0,389.4 1697.0,389.4 1699.0,389.5 1699.0,389.6 1700.5,389.7 1700.5,389.0 1702.0,389.0 1702.0,389.9 1703.5,390.0 1703.5,386.8 1705.5,386.9 1705.5,393.0 1708.0,393.1 1708.0,388.6 1709.0,388.7 1709.0,388.9 1711.0,388.9 1711.0,389.5 1712.5,389.6 1712.5,389.4 1714.0,389.4 1714.0,390.0 1715.5,390.1 1715.5,389.3 1717.0,389.4 1717.0,392.1 1718.0,392.2 1718.0,391.2 1720.0,391.3 1720.0,391.0 1722.0,391.0 1722.0,390.3 1723.0,390.4 1723.0,389.8 1725.0,389.8 1725.0,390.9 1726.5,390.9 1726.5,393.1 1729.0,393.2 1729.0,390.0 1731.5,390.1 1731.5,389.7 1734.0,389.8 1734.0,391.5 1735.5,391.6 1735.5,391.5 1737.0,391.6 1737.0,392.5 1738.5,392.6 1738.5,393.2 1741.0,393.3 1741.0,390.5 1742.5,390.5 1742.5,391.4 1744.0,391.4 1744.0,394.4 1745.5,394.5 1745.5,391.5 1747.0,391.6 1747.0,390.7 1749.0,390.7 1749.0,390.8 1750.5,390.9 1750.5,391.0 1752.5,391.0 1752.5,390.9 1754.0,391.0 1754.0,390.6 1756.5,390.7 1756.5,391.5 1759.0,391.6 1759.0,390.7 1760.5,390.7 1760.5,393.9 1762.0,393.9 1762.0,392.2 1763.5,392.3 1763.5,393.6 1765.5,393.6 1765.5,395.5 1766.5,395.6 1766.5,392.5 1768.0,392.5 1768.0,394.9 1769.0,395.0 1769.0,391.0 1770.5,391.1 1770.5,392.4 1772.0,392.5 1772.0,391.2 1774.5,391.3 1774.5,393.9 1777.0,394.0 1777.0,391.7 1779.5,391.8 1779.5,394.8 1781.5,394.9 1781.5,395.7 1784.0,395.8 1784.0,394.1 1785.5,394.2 1785.5,393.8 1788.0,393.9 1788.0,394.7 1789.5,394.8 1789.5,393.5 1791.0,393.5 1791.0,394.0 1792.0,394.1 1792.0,392.1 1794.5,392.2"/><polygon fill="#dc2a1e" points="1396.3,379.9 1396.9,376.9 1397.4,368.9 1398.0,367.9 1402.0,367.9 1402.6,368.9 1403.1,376.9 1403.7,379.9"/><polygon fill="#dc2a1e" points="1462.7,382.4 1463.3,379.4 1463.8,373.4 1464.4,372.4 1468.4,372.4 1469.0,373.4 1469.5,379.4 1470.1,382.4"/><polygon fill="#dc2a1e" points="1604.0,387.9 1604.6,384.9 1605.1,380.9 1605.7,379.9 1609.7,379.9 1610.3,380.9 1610.8,384.9 1611.4,387.9"/><polygon fill="#dc2a1e" points="1639.9,389.3 1640.5,386.3 1641.0,374.3 1641.6,373.3 1645.6,373.3 1646.2,374.3 1646.7,386.3 1647.3,389.3"/><polygon fill="#dc2a1e" points="1104.3,368.6 1104.9,365.6 1105.4,362.6 1106.0,361.6 1110.0,361.6 1110.6,362.6 1111.1,365.6 1111.7,368.6"/>
<polygon fill="#dc2a1e" points="1182.9,370.5 1184.0,364.6 1185.3,355.8 1185.7,335.3 1185.7,223.7 1186.2,76.9 1190.6,76.9 1191.1,223.7 1191.1,335.3 1191.5,355.8 1192.8,364.6 1193.9,370.5"/>
<polyline fill="none" stroke="#0c8140" stroke-width="3" stroke-linejoin="miter" stroke-miterlimit="1.6" stroke-linecap="butt" points="1002.0,429.4 1003.5,429.5 1003.5,429.8 1006.0,429.9 1006.0,429.8 1007.5,429.8 1007.5,429.9 1009.0,429.9 1009.0,429.7 1010.0,429.7 1010.0,427.0 1011.0,427.1 1011.0,427.8 1013.0,427.9 1013.0,429.6 1014.0,429.6 1014.0,430.9 1016.5,431.0 1016.5,429.5 1019.0,429.6 1019.0,431.4 1021.0,431.5 1021.0,431.3 1023.5,431.4 1023.5,428.4 1024.5,428.4 1024.5,428.6 1026.5,428.7 1026.5,430.4 1028.0,430.5 1028.0,428.8 1030.5,428.9 1030.5,429.8 1033.0,429.9 1033.0,429.4 1035.0,429.4 1035.0,431.5 1036.5,431.5 1036.5,431.0 1037.5,431.1 1037.5,431.3 1039.0,431.3 1039.0,431.7 1040.5,431.8 1040.5,431.4 1042.0,431.4 1042.0,432.7 1043.5,432.8 1043.5,428.2 1044.5,428.2 1044.5,430.0 1047.0,430.1 1047.0,428.6 1048.0,428.6 1048.0,425.8 1049.0,425.8 1049.0,429.1 1051.5,429.2 1051.5,430.9 1052.5,430.9 1052.5,430.0 1053.5,430.1 1053.5,429.9 1054.5,429.9 1054.5,431.2 1055.5,431.3 1055.5,431.0 1057.5,431.1 1057.5,432.1 1060.0,432.2 1060.0,431.1 1062.0,431.2 1062.0,431.2 1064.0,431.2 1064.0,432.0 1066.0,432.0 1066.0,433.1 1067.0,433.2 1067.0,431.8 1068.5,431.8 1068.5,431.7 1071.0,431.8 1071.0,432.4 1072.0,432.4 1072.0,431.2 1074.0,431.3 1074.0,431.6 1076.5,431.7 1076.5,433.4 1077.5,433.4 1077.5,433.5 1078.5,433.6 1078.5,429.5 1080.0,429.6 1080.0,432.4 1081.5,432.5 1081.5,433.5 1084.0,433.6 1084.0,433.3 1085.5,433.4 1085.5,434.2 1086.5,434.3 1086.5,435.7 1088.0,435.8 1088.0,434.6 1089.0,434.7 1089.0,428.1 1090.5,428.2 1090.5,438.7 1092.0,438.7 1092.0,434.0 1094.5,434.1 1094.5,430.5 1095.5,430.6 1095.5,434.5 1097.0,434.6 1097.0,432.4 1099.5,432.5 1099.5,434.0 1100.5,434.1 1100.5,433.1 1102.0,433.2 1102.0,433.4 1103.5,433.4 1103.5,433.7 1104.5,433.7 1104.5,433.4 1105.5,433.4 1105.5,433.7 1107.5,433.8 1107.5,431.6 1109.0,431.7 1109.0,434.2 1111.0,434.3 1111.0,432.6 1113.5,432.7 1113.5,433.6 1114.5,433.6 1114.5,435.8 1116.0,435.8 1116.0,436.8 1118.0,436.9 1118.0,434.0 1120.0,434.1 1120.0,433.4 1122.0,433.5 1122.0,435.5 1124.5,435.6 1124.5,433.3 1127.0,433.4 1127.0,431.9 1128.5,432.0 1128.5,435.9 1129.5,435.9 1129.5,432.4 1132.0,432.5 1132.0,436.4 1133.5,436.4 1133.5,433.7 1135.0,433.8 1135.0,432.5 1136.5,432.5 1136.5,435.6 1138.5,435.6 1138.5,435.2 1140.0,435.2 1140.0,436.0 1141.5,436.1 1141.5,434.1 1144.0,434.2 1144.0,434.4 1145.5,434.4 1145.5,432.4 1147.0,432.5 1147.0,438.0 1149.5,438.1 1149.5,434.3 1150.5,434.3 1150.5,433.2 1152.0,433.3 1152.0,435.4 1153.5,435.4 1153.5,435.3 1155.0,435.4 1155.0,435.5 1156.5,435.6 1156.5,435.7 1158.0,435.7 1158.0,435.6 1159.5,435.7 1159.5,435.2 1161.5,435.3 1161.5,433.5 1163.5,433.6 1163.5,437.3 1166.0,437.4 1166.0,433.9 1168.5,434.0 1168.5,437.9 1171.0,438.0 1171.0,435.2 1173.0,435.3 1173.0,434.4 1175.0,434.4 1175.0,435.4 1176.5,435.5 1176.5,435.5 1177.5,435.6 1177.5,436.2 1178.5,436.2 1178.5,438.1 1179.5,438.2 1179.5,436.8 1180.5,436.8 1180.5,437.3 1182.0,437.3 1182.0,436.6 1183.5,436.6 1183.5,440.9 1185.5,441.0 1185.5,438.6 1187.5,438.6 1187.5,435.6 1189.0,435.6 1189.0,434.8 1190.0,434.8 1190.0,436.4 1191.5,436.5 1191.5,437.3 1193.0,437.4 1193.0,438.5 1194.0,438.5 1194.0,435.4 1196.5,435.5 1196.5,437.5 1198.0,437.6 1198.0,437.3 1200.5,437.4 1200.5,438.2 1202.0,438.3 1202.0,437.2 1203.5,437.2 1203.5,438.0 1205.5,438.1 1205.5,436.9 1207.0,437.0 1207.0,439.6 1208.5,439.7 1208.5,437.5 1210.5,437.6 1210.5,437.4 1212.0,437.4 1212.0,438.5 1213.5,438.5 1213.5,438.3 1216.0,438.4 1216.0,438.4 1217.0,438.4 1217.0,436.0 1219.0,436.1 1219.0,439.2 1220.5,439.3 1220.5,439.9 1222.0,439.9 1222.0,438.8 1224.5,438.9 1224.5,436.5 1226.0,436.6 1226.0,445.6 1227.0,445.7 1227.0,436.9 1228.5,436.9 1228.5,438.2 1231.0,438.3 1231.0,437.4 1232.0,437.5 1232.0,437.7 1234.5,437.8 1234.5,438.2 1236.0,438.3 1236.0,436.0 1237.5,436.0 1237.5,439.8 1239.0,439.9 1239.0,437.9 1240.5,437.9 1240.5,438.8 1242.0,438.8 1242.0,436.4 1244.0,436.5 1244.0,438.4 1245.5,438.5 1245.5,439.4 1247.5,439.4 1247.5,438.1 1249.5,438.2 1249.5,440.6 1251.0,440.7 1251.0,438.1 1253.5,438.2 1253.5,439.9 1256.0,440.0 1256.0,437.2 1257.5,437.3 1257.5,441.9 1259.0,441.9 1259.0,439.4 1260.5,439.5 1260.5,438.3 1261.5,438.3 1261.5,439.6 1263.5,439.7 1263.5,439.7 1265.5,439.7 1265.5,439.7 1267.5,439.8 1267.5,439.9 1269.0,439.9 1269.0,440.0 1270.0,440.0 1270.0,442.5 1271.0,442.6 1271.0,440.5 1273.5,440.6 1273.5,440.8 1275.0,440.8 1275.0,438.5 1276.0,438.6 1276.0,442.7 1278.0,442.8 1278.0,439.8 1279.5,439.9 1279.5,440.7 1282.0,440.8 1282.0,442.5 1283.5,442.5 1283.5,439.9 1284.5,439.9 1284.5,441.5 1286.5,441.5 1286.5,440.5 1288.0,440.6 1288.0,441.3 1290.5,441.4 1290.5,440.0 1292.5,440.1 1292.5,440.0 1295.0,440.1 1295.0,441.1 1297.5,441.2 1297.5,441.5 1298.5,441.5 1298.5,440.2 1301.0,440.3 1301.0,440.7 1303.0,440.7 1303.0,442.6 1305.0,442.7 1305.0,443.5 1306.5,443.6 1306.5,441.7 1308.0,441.8 1308.0,440.4 1309.5,440.5 1309.5,443.4 1312.0,443.5 1312.0,440.1 1313.5,440.1 1313.5,442.6 1315.0,442.7 1315.0,443.8 1317.5,443.9 1317.5,441.4 1320.0,441.5 1320.0,442.1 1321.0,442.1 1321.0,441.7 1323.0,441.8 1323.0,442.8 1325.0,442.9 1325.0,443.2 1326.5,443.2 1326.5,439.3 1328.0,439.3 1328.0,443.3 1330.0,443.4 1330.0,441.0 1331.0,441.0 1331.0,442.9 1333.5,443.0 1333.5,442.9 1335.0,443.0 1335.0,440.6 1336.5,440.6 1336.5,440.7 1338.0,440.7 1338.0,442.8 1340.5,442.9 1340.5,446.3 1342.0,446.4 1342.0,441.3 1343.5,441.4 1343.5,444.4 1346.0,444.5 1346.0,442.0 1347.0,442.1 1347.0,444.4 1348.5,444.5 1348.5,443.9 1350.0,444.0 1350.0,444.8 1352.5,444.9 1352.5,446.7 1354.0,446.8 1354.0,440.6 1355.0,440.7 1355.0,444.4 1356.5,444.5 1356.5,446.2 1358.5,446.3 1358.5,439.1 1360.0,439.1 1360.0,439.1 1361.5,439.2 1361.5,445.9 1362.5,446.0 1362.5,444.4 1364.0,444.5 1364.0,444.4 1365.0,444.5 1365.0,441.3 1366.0,441.3 1366.0,443.9 1368.5,444.0 1368.5,445.4 1370.0,445.5 1370.0,443.2 1371.5,443.3 1371.5,445.5 1374.0,445.6 1374.0,444.1 1375.0,444.2 1375.0,444.0 1376.5,444.0 1376.5,444.4 1378.0,444.4 1378.0,444.2 1379.0,444.3 1379.0,443.5 1381.5,443.6 1381.5,447.3 1384.0,447.4 1384.0,444.0 1385.5,444.0 1385.5,442.6 1387.5,442.6 1387.5,445.1 1389.0,445.1 1389.0,444.4 1390.5,444.4 1390.5,443.6 1392.5,443.7 1392.5,443.4 1394.0,443.5 1394.0,446.0 1396.0,446.1 1396.0,445.3 1397.0,445.3 1397.0,446.0 1398.5,446.0 1398.5,443.6 1399.5,443.7 1399.5,445.1 1401.0,445.1 1401.0,445.1 1403.0,445.1 1403.0,445.4 1404.0,445.4 1404.0,445.2 1405.0,445.3 1405.0,445.5 1406.5,445.6 1406.5,445.2 1408.0,445.3 1408.0,445.9 1409.0,445.9 1409.0,446.1 1411.5,446.2 1411.5,443.9 1413.0,444.0 1413.0,444.0 1414.0,444.0 1414.0,443.6 1415.5,443.7 1415.5,443.6 1418.0,443.7 1418.0,447.1 1420.0,447.1 1420.0,447.3 1421.5,447.4 1421.5,446.4 1423.5,446.5 1423.5,444.7 1425.0,444.7 1425.0,446.4 1426.5,446.5 1426.5,446.4 1428.0,446.4 1428.0,446.1 1429.5,446.2 1429.5,446.5 1431.5,446.6 1431.5,446.5 1433.5,446.6 1433.5,446.4 1435.5,446.5 1435.5,446.3 1437.5,446.4 1437.5,446.6 1439.0,446.7 1439.0,446.6 1441.0,446.7 1441.0,448.3 1442.0,448.3 1442.0,446.7 1444.0,446.8 1444.0,446.7 1445.0,446.7 1445.0,447.7 1446.0,447.8 1446.0,444.7 1448.5,444.8 1448.5,445.5 1450.0,445.6 1450.0,448.9 1451.5,448.9 1451.5,446.0 1453.5,446.1 1453.5,449.0 1456.0,449.1 1456.0,448.6 1458.5,448.7 1458.5,450.8 1459.5,450.8 1459.5,445.9 1462.0,446.0 1462.0,445.6 1463.5,445.6 1463.5,446.0 1465.0,446.1 1465.0,449.3 1467.0,449.4 1467.0,447.8 1469.0,447.8 1469.0,445.3 1471.5,445.4 1471.5,449.1 1473.0,449.2 1473.0,448.7 1474.5,448.8 1474.5,447.4 1476.0,447.4 1476.0,447.9 1477.0,447.9 1477.0,451.4 1478.5,451.4 1478.5,448.6 1480.0,448.6 1480.0,446.1 1481.5,446.1 1481.5,446.9 1482.5,446.9 1482.5,450.0 1483.5,450.1 1483.5,448.1 1486.0,448.2 1486.0,445.4 1487.5,445.5 1487.5,448.4 1489.0,448.5 1489.0,448.3 1491.0,448.4 1491.0,448.1 1493.5,448.2 1493.5,447.8 1494.5,447.9 1494.5,447.0 1495.5,447.1 1495.5,449.7 1497.5,449.8 1497.5,448.1 1500.0,448.2 1500.0,449.9 1501.5,449.9 1501.5,448.2 1503.0,448.3 1503.0,449.4 1505.0,449.5 1505.0,451.3 1506.5,451.3 1506.5,450.7 1508.0,450.8 1508.0,451.5 1510.0,451.5 1510.0,447.0 1512.5,447.1 1512.5,448.1 1513.5,448.2 1513.5,448.0 1514.5,448.1 1514.5,450.3 1515.5,450.3 1515.5,449.8 1517.0,449.9 1517.0,450.8 1518.0,450.9 1518.0,448.6 1519.0,448.7 1519.0,452.9 1520.5,453.0 1520.5,450.4 1521.5,450.4 1521.5,450.2 1523.0,450.3 1523.0,448.4 1524.5,448.5 1524.5,448.8 1526.5,448.9 1526.5,449.4 1528.0,449.5 1528.0,448.8 1530.0,448.8 1530.0,450.3 1532.0,450.4 1532.0,450.3 1533.5,450.4 1533.5,450.2 1534.5,450.3 1534.5,450.5 1536.0,450.5 1536.0,450.6 1537.5,450.7 1537.5,450.4 1539.0,450.4 1539.0,450.8 1540.5,450.8 1540.5,448.4 1542.5,448.5 1542.5,451.2 1543.5,451.2 1543.5,448.5 1545.0,448.6 1545.0,449.9 1547.5,450.0 1547.5,450.9 1548.5,450.9 1548.5,451.1 1551.0,451.2 1551.0,450.9 1553.0,451.0 1553.0,451.1 1554.0,451.2 1554.0,451.1 1555.0,451.1 1555.0,451.3 1557.0,451.4 1557.0,451.4 1559.5,451.5 1559.5,451.2 1561.0,451.3 1561.0,453.5 1562.0,453.6 1562.0,454.7 1564.0,454.8 1564.0,457.0 1565.0,457.1 1565.0,453.3 1566.5,453.3 1566.5,450.2 1568.0,450.2 1568.0,451.1 1569.0,451.2 1569.0,453.4 1570.5,453.4 1570.5,450.0 1572.0,450.1 1572.0,451.1 1574.5,451.2 1574.5,450.9 1576.0,451.0 1576.0,453.8 1578.0,453.9 1578.0,451.2 1580.0,451.3 1580.0,450.2 1582.5,450.3 1582.5,453.1 1585.0,453.2 1585.0,453.9 1586.0,453.9 1586.0,452.8 1588.0,452.8 1588.0,452.9 1590.0,453.0 1590.0,453.1 1591.5,453.2 1591.5,450.6 1592.5,450.7 1592.5,453.6 1594.0,453.6 1594.0,452.0 1596.5,452.1 1596.5,455.6 1597.5,455.7 1597.5,451.8 1599.0,451.9 1599.0,453.8 1601.0,453.8 1601.0,452.1 1602.5,452.2 1602.5,452.8 1605.0,452.9 1605.0,456.1 1606.0,456.1 1606.0,452.2 1608.0,452.2 1608.0,455.0 1609.5,455.1 1609.5,453.8 1611.0,453.8 1611.0,454.7 1612.0,454.7 1612.0,455.2 1614.5,455.3 1614.5,455.7 1616.0,455.7 1616.0,450.8 1617.5,450.8 1617.5,451.8 1620.0,451.9 1620.0,455.1 1622.5,455.2 1622.5,454.0 1623.5,454.1 1623.5,453.5 1624.5,453.6 1624.5,452.7 1625.5,452.8 1625.5,451.3 1627.0,451.4 1627.0,454.5 1629.5,454.6 1629.5,453.5 1631.5,453.6 1631.5,453.1 1633.0,453.2 1633.0,454.5 1634.0,454.6 1634.0,454.3 1635.5,454.3 1635.5,455.6 1638.0,455.7 1638.0,456.8 1639.0,456.8 1639.0,453.0 1640.5,453.0 1640.5,456.1 1643.0,456.2 1643.0,455.8 1645.5,455.9 1645.5,452.7 1647.5,452.8 1647.5,455.4 1649.5,455.5 1649.5,453.0 1652.0,453.1 1652.0,452.8 1654.0,452.9 1654.0,456.0 1656.5,456.1 1656.5,455.3 1657.5,455.4 1657.5,457.8 1658.5,457.9 1658.5,454.8 1661.0,454.9 1661.0,454.2 1662.0,454.2 1662.0,454.4 1663.0,454.4 1663.0,454.2 1665.5,454.2 1665.5,456.9 1667.5,457.0 1667.5,455.3 1669.0,455.4 1669.0,454.0 1670.0,454.1 1670.0,457.2 1671.5,457.2 1671.5,455.9 1674.0,456.0 1674.0,456.3 1676.5,456.4 1676.5,458.4 1679.0,458.5 1679.0,458.6 1681.5,458.7 1681.5,454.2 1684.0,454.3 1684.0,450.5 1685.5,450.6 1685.5,456.6 1686.5,456.6 1686.5,454.7 1688.0,454.7 1688.0,455.7 1690.5,455.8 1690.5,457.5 1692.0,457.6 1692.0,457.3 1693.5,457.3 1693.5,457.9 1696.0,458.0 1696.0,458.1 1698.0,458.1 1698.0,457.1 1700.5,457.2 1700.5,457.1 1703.0,457.2 1703.0,457.8 1705.5,457.9 1705.5,456.7 1707.0,456.7 1707.0,457.3 1709.0,457.4 1709.0,460.0 1711.0,460.0 1711.0,457.5 1712.5,457.5 1712.5,455.4 1713.0,455.5"/><polygon fill="#0c8140" points="1072.9,434.0 1073.5,431.0 1074.0,425.0 1074.6,424.0 1078.6,424.0 1079.2,425.0 1079.7,431.0 1080.3,434.0"/><polygon fill="#0c8140" points="1109.6,435.4 1110.2,432.4 1110.7,426.4 1111.3,425.4 1115.3,425.4 1115.9,426.4 1116.4,432.4 1117.0,435.4"/><polygon fill="#0c8140" points="1323.3,443.8 1323.9,440.8 1324.4,435.8 1325.0,434.8 1329.0,434.8 1329.6,435.8 1330.1,440.8 1330.7,443.8"/><polygon fill="#0c8140" points="1566.9,453.3 1567.5,450.3 1568.0,443.3 1568.6,442.3 1572.6,442.3 1573.2,443.3 1573.7,450.3 1574.3,453.3"/><polygon fill="#0c8140" points="1631.3,455.8 1631.9,452.8 1632.4,446.8 1633.0,445.8 1637.0,445.8 1637.6,446.8 1638.1,452.8 1638.7,455.8"/>
<polygon fill="#0c8140" points="1358.5,444.0 1359.6,438.1 1360.0,429.3 1360.5,408.8 1360.6,297.2 1361.4,150.4 1366.2,150.4 1367.0,297.2 1367.1,408.8 1367.6,429.3 1368.0,438.1 1369.0,444.0"/>
<polyline fill="none" stroke="#3a46a6" stroke-width="4.8" stroke-linejoin="miter" stroke-miterlimit="1.6" stroke-linecap="butt" points="931.0,491.7 933.5,491.8 933.5,492.0 935.0,492.1 935.0,492.0 936.5,492.0 936.5,492.2 939.0,492.3 939.0,492.3 940.5,492.4 940.5,491.5 943.0,491.6 943.0,493.7 944.5,493.7 944.5,490.2 946.0,490.3 946.0,492.2 948.0,492.3 948.0,492.1 949.5,492.1 949.5,492.1 951.0,492.2 951.0,493.2 952.0,493.3 952.0,493.3 953.5,493.3 953.5,491.5 955.0,491.6 955.0,493.8 956.5,493.8 956.5,493.2 959.0,493.3 959.0,493.1 960.0,493.1 960.0,492.5 961.5,492.6 961.5,492.1 963.0,492.2 963.0,494.1 964.5,494.1 964.5,493.2 966.0,493.3 966.0,492.1 967.0,492.2 967.0,492.1 968.5,492.1 968.5,494.5 970.5,494.5 970.5,494.1 972.5,494.2 972.5,495.3 974.5,495.4 974.5,491.8 975.5,491.8 975.5,495.7 977.0,495.8 977.0,493.1 978.5,493.1 978.5,492.0 980.0,492.1 980.0,494.5 981.5,494.6 981.5,493.7 984.0,493.8 984.0,491.8 986.0,491.9 986.0,495.5 988.5,495.6 988.5,495.4 991.0,495.5 991.0,497.2 992.0,497.3 992.0,494.2 993.5,494.3 993.5,494.6 995.0,494.6 995.0,491.8 997.5,491.8 997.5,495.4 999.0,495.4 999.0,493.8 1000.0,493.8 1000.0,493.7 1001.0,493.8 1001.0,494.6 1003.5,494.7 1003.5,494.7 1005.0,494.8 1005.0,493.2 1007.5,493.3 1007.5,494.3 1008.5,494.4 1008.5,494.8 1010.5,494.9 1010.5,494.7 1012.0,494.8 1012.0,494.9 1013.5,495.0 1013.5,495.0 1015.0,495.1 1015.0,495.3 1017.5,495.4 1017.5,494.2 1018.5,494.2 1018.5,493.8 1020.0,493.8 1020.0,495.8 1021.5,495.8 1021.5,495.5 1023.0,495.5 1023.0,494.1 1024.5,494.1 1024.5,496.9 1026.0,496.9 1026.0,495.6 1028.0,495.7 1028.0,493.7 1029.5,493.8 1029.5,495.1 1031.0,495.2 1031.0,496.4 1033.5,496.5 1033.5,495.5 1035.5,495.6 1035.5,496.2 1037.0,496.3 1037.0,495.2 1038.0,495.2 1038.0,496.8 1040.0,496.9 1040.0,495.7 1041.5,495.7 1041.5,496.5 1044.0,496.6 1044.0,495.4 1045.0,495.4 1045.0,496.2 1047.0,496.2 1047.0,497.5 1048.5,497.6 1048.5,496.2 1050.0,496.3 1050.0,495.9 1051.5,496.0 1051.5,498.4 1053.0,498.4 1053.0,497.4 1055.0,497.5 1055.0,496.6 1057.5,496.7 1057.5,496.2 1058.5,496.2 1058.5,497.2 1061.0,497.3 1061.0,496.9 1062.5,496.9 1062.5,497.5 1064.0,497.6 1064.0,495.4 1065.0,495.4 1065.0,497.1 1067.5,497.1 1067.5,497.4 1069.0,497.5 1069.0,497.4 1070.0,497.4 1070.0,496.1 1071.0,496.1 1071.0,495.4 1072.5,495.4 1072.5,497.7 1074.0,497.8 1074.0,496.6 1075.5,496.7 1075.5,498.5 1077.0,498.6 1077.0,497.3 1078.5,497.3 1078.5,497.2 1080.5,497.3 1080.5,498.1 1082.0,498.1 1082.0,497.3 1083.5,497.4 1083.5,497.9 1086.0,498.0 1086.0,497.3 1087.5,497.4 1087.5,499.6 1089.0,499.6 1089.0,498.3 1090.0,498.4 1090.0,498.2 1091.5,498.3 1091.5,497.0 1092.5,497.0 1092.5,497.2 1095.0,497.3 1095.0,498.7 1097.0,498.7 1097.0,497.5 1098.0,497.6 1098.0,498.1 1099.5,498.2 1099.5,499.9 1101.0,500.0 1101.0,498.9 1102.5,499.0 1102.5,499.4 1104.0,499.4 1104.0,497.1 1105.0,497.1 1105.0,498.3 1107.5,498.4 1107.5,500.5 1110.0,500.6 1110.0,499.7 1111.5,499.7 1111.5,497.5 1112.5,497.6 1112.5,500.0 1115.0,500.1 1115.0,498.5 1116.0,498.6 1116.0,500.1 1117.5,500.2 1117.5,500.5 1119.0,500.6 1119.0,500.2 1120.5,500.3 1120.5,497.8 1122.0,497.9 1122.0,500.1 1123.5,500.2 1123.5,500.8 1124.5,500.8 1124.5,499.3 1127.0,499.4 1127.0,501.4 1128.5,501.5 1128.5,498.7 1130.0,498.8 1130.0,499.4 1131.5,499.5 1131.5,500.7 1133.0,500.8 1133.0,500.6 1135.5,500.7 1135.5,497.6 1138.0,497.7 1138.0,498.9 1139.5,498.9 1139.5,500.0 1141.0,500.1 1141.0,500.4 1142.5,500.4 1142.5,500.2 1144.5,500.3 1144.5,498.8 1146.5,498.9 1146.5,500.7 1148.0,500.7 1148.0,500.6 1150.5,500.7 1150.5,500.4 1152.0,500.4 1152.0,500.7 1153.5,500.7 1153.5,499.2 1155.0,499.3 1155.0,501.0 1157.5,501.1 1157.5,500.9 1159.0,501.0 1159.0,500.8 1160.5,500.9 1160.5,500.9 1163.0,501.0 1163.0,501.0 1164.5,501.1 1164.5,500.9 1166.0,501.0 1166.0,501.3 1168.0,501.3 1168.0,503.1 1169.5,503.2 1169.5,499.8 1171.0,499.9 1171.0,501.7 1172.0,501.8 1172.0,501.1 1173.0,501.1 1173.0,500.9 1174.5,501.0 1174.5,501.6 1175.5,501.6 1175.5,501.6 1178.0,501.7 1178.0,501.8 1180.0,501.9 1180.0,501.6 1182.5,501.7 1182.5,501.7 1183.5,501.8 1183.5,501.8 1186.0,501.9 1186.0,501.9 1188.0,502.0 1188.0,502.2 1190.0,502.3 1190.0,503.1 1191.5,503.1 1191.5,503.2 1192.5,503.2 1192.5,503.3 1194.5,503.4 1194.5,502.9 1196.5,503.0 1196.5,504.5 1198.5,504.6 1198.5,502.9 1199.5,503.0 1199.5,502.8 1202.0,502.9 1202.0,503.5 1203.5,503.6 1203.5,502.9 1205.0,503.0 1205.0,501.1 1206.5,501.2 1206.5,503.3 1208.5,503.4 1208.5,504.9 1210.0,505.0 1210.0,500.6 1211.5,500.7 1211.5,504.6 1214.0,504.7 1214.0,503.7 1216.0,503.8 1216.0,502.1 1217.5,502.2 1217.5,504.6 1219.5,504.7 1219.5,502.0 1221.0,502.0 1221.0,504.2 1222.5,504.2 1222.5,503.7 1225.0,503.8 1225.0,505.1 1226.5,505.1 1226.5,504.3 1228.5,504.4 1228.5,503.9 1229.5,503.9 1229.5,505.8 1231.0,505.9 1231.0,502.3 1233.5,502.4 1233.5,503.7 1235.0,503.7 1235.0,503.6 1236.5,503.6 1236.5,503.2 1238.0,503.3 1238.0,504.7 1239.0,504.7 1239.0,504.1 1241.5,504.2 1241.5,502.0 1242.5,502.0 1242.5,506.1 1244.5,506.2 1244.5,504.8 1245.5,504.8 1245.5,504.7 1247.0,504.8 1247.0,503.7 1248.5,503.7 1248.5,505.8 1250.0,505.9 1250.0,503.9 1251.0,503.9 1251.0,505.3 1253.0,505.4 1253.0,503.1 1255.5,503.2 1255.5,505.0 1258.0,505.1 1258.0,504.2 1260.0,504.3 1260.0,506.5 1261.5,506.5 1261.5,505.3 1263.5,505.4 1263.5,505.2 1265.0,505.2 1265.0,504.2 1266.5,504.3 1266.5,505.1 1268.0,505.2 1268.0,503.4 1269.5,503.5 1269.5,504.1 1271.5,504.2 1271.5,504.8 1273.0,504.8 1273.0,506.3 1274.5,506.4 1274.5,504.6 1276.0,504.7 1276.0,503.8 1278.5,503.9 1278.5,506.8 1279.5,506.8 1279.5,504.5 1281.5,504.6 1281.5,507.2 1284.0,507.3 1284.0,507.0 1286.5,507.1 1286.5,506.9 1288.0,506.9 1288.0,506.5 1290.0,506.6 1290.0,507.3 1291.5,507.4 1291.5,505.6 1294.0,505.7 1294.0,505.7 1296.0,505.8 1296.0,505.7 1297.5,505.8 1297.5,507.5 1299.0,507.6 1299.0,504.8 1301.0,504.9 1301.0,503.6 1303.0,503.7 1303.0,506.2 1304.0,506.3 1304.0,507.3 1305.5,507.4 1305.5,506.7 1307.0,506.8 1307.0,506.9 1309.5,507.0 1309.5,507.3 1312.0,507.4 1312.0,505.5 1313.5,505.6 1313.5,506.4 1316.0,506.5 1316.0,507.5 1317.5,507.6 1317.5,508.4 1320.0,508.5 1320.0,509.0 1321.0,509.1 1321.0,507.1 1322.0,507.1 1322.0,506.7 1324.5,506.8 1324.5,507.2 1326.5,507.3 1326.5,508.4 1329.0,508.5 1329.0,508.5 1330.0,508.5 1330.0,507.6 1332.5,507.7 1332.5,506.8 1335.0,506.9 1335.0,509.2 1337.5,509.3 1337.5,508.6 1338.5,508.6 1338.5,508.3 1341.0,508.4 1341.0,506.9 1343.5,507.0 1343.5,508.1 1345.0,508.1 1345.0,507.8 1346.5,507.9 1346.5,510.4 1348.0,510.5 1348.0,508.0 1349.5,508.0 1349.5,509.4 1351.0,509.4 1351.0,507.2 1352.5,507.3 1352.5,510.7 1355.0,510.8 1355.0,507.6 1356.5,507.7 1356.5,508.6 1359.0,508.7 1359.0,509.6 1360.5,509.7 1360.5,508.8 1363.0,508.9 1363.0,508.9 1365.5,509.0 1365.5,509.8 1366.5,509.8 1366.5,509.9 1367.5,509.9 1367.5,509.3 1370.0,509.4 1370.0,509.8 1371.0,509.8 1371.0,511.5 1372.5,511.6 1372.5,509.2 1373.5,509.2 1373.5,509.8 1375.0,509.9 1375.0,509.7 1376.5,509.8 1376.5,508.8 1378.0,508.8 1378.0,509.9 1380.0,510.0 1380.0,510.0 1381.5,510.0 1381.5,509.0 1383.0,509.1 1383.0,510.5 1384.5,510.5 1384.5,510.8 1386.0,510.8 1386.0,509.2 1388.5,509.3 1388.5,511.4 1390.0,511.5 1390.0,508.7 1391.5,508.8 1391.5,511.1 1393.0,511.1 1393.0,510.8 1395.5,510.9 1395.5,508.8 1397.5,508.9 1397.5,510.4 1399.0,510.5 1399.0,508.8 1401.0,508.9 1401.0,510.0 1402.5,510.1 1402.5,510.3 1404.0,510.4 1404.0,510.3 1405.5,510.3 1405.5,510.6 1407.0,510.6 1407.0,510.6 1409.0,510.6 1409.0,510.7 1410.0,510.7 1410.0,510.8 1412.5,510.9 1412.5,511.5 1415.0,511.6 1415.0,511.2 1416.5,511.2 1416.5,510.4 1417.5,510.4 1417.5,509.2 1419.0,509.3 1419.0,510.8 1420.5,510.9 1420.5,510.6 1423.0,510.7 1423.0,511.2 1425.5,511.3 1425.5,513.0 1427.5,513.1 1427.5,511.3 1429.5,511.4 1429.5,512.7 1431.5,512.8 1431.5,511.6 1434.0,511.7 1434.0,511.0 1436.0,511.1 1436.0,510.6 1437.0,510.6 1437.0,512.0 1438.5,512.0 1438.5,513.4 1440.5,513.5 1440.5,512.4 1442.5,512.5 1442.5,512.0 1444.0,512.0 1444.0,512.1 1445.5,512.1 1445.5,512.6 1448.0,512.7 1448.0,511.9 1450.5,512.0 1450.5,513.7 1452.5,513.7 1452.5,512.7 1454.0,512.7 1454.0,511.8 1456.0,511.9 1456.0,515.6 1458.5,515.7 1458.5,511.2 1460.5,511.2 1460.5,512.1 1462.5,512.2 1462.5,512.7 1464.5,512.7 1464.5,513.5 1467.0,513.6 1467.0,514.8 1468.5,514.9 1468.5,512.7 1469.5,512.8 1469.5,514.0 1471.5,514.1 1471.5,513.0 1473.0,513.0 1473.0,513.0 1475.0,513.0 1475.0,513.0 1476.0,513.1 1476.0,512.1 1478.5,512.2 1478.5,513.7 1480.0,513.8 1480.0,511.9 1481.5,512.0 1481.5,513.9 1483.0,514.0 1483.0,514.4 1485.0,514.5 1485.0,515.7 1487.0,515.8 1487.0,513.1 1488.5,513.2 1488.5,513.7 1490.5,513.7 1490.5,513.1 1492.0,513.1 1492.0,514.1 1493.5,514.2 1493.5,515.4 1495.0,515.4 1495.0,513.7 1496.5,513.7 1496.5,514.8 1497.5,514.9 1497.5,513.8 1499.0,513.9 1499.0,514.6 1500.0,514.6 1500.0,512.7 1502.5,512.8 1502.5,513.9 1504.0,513.9 1504.0,514.4 1505.5,514.5 1505.5,512.0 1507.5,512.1 1507.5,514.4 1508.5,514.4 1508.5,514.6 1510.5,514.7 1510.5,514.6 1513.0,514.7 1513.0,513.7 1515.0,513.8 1515.0,513.7 1516.0,513.7 1516.0,516.7 1518.0,516.8 1518.0,518.2 1519.5,518.3 1519.5,516.8 1521.5,516.9 1521.5,514.8 1522.5,514.8 1522.5,515.3 1525.0,515.4 1525.0,516.5 1526.0,516.6 1526.0,515.6 1528.0,515.7 1528.0,515.9 1530.5,516.0 1530.5,516.2 1531.5,516.2 1531.5,515.4 1532.5,515.5 1532.5,514.7 1534.0,514.7 1534.0,516.7 1535.5,516.8 1535.5,515.7 1538.0,515.8 1538.0,517.0 1540.0,517.0 1540.0,515.9 1541.5,516.0 1541.5,516.1 1544.0,516.2 1544.0,516.0 1546.0,516.1 1546.0,516.0 1547.0,516.0 1547.0,515.7 1548.5,515.8 1548.5,516.1 1549.5,516.1 1549.5,517.1 1551.0,517.2 1551.0,515.8 1553.5,515.9 1553.5,516.1 1555.5,516.2 1555.5,513.5 1558.0,513.6 1558.0,516.5 1559.0,516.6 1559.0,516.2 1560.0,516.3 1560.0,517.0 1561.0,517.1 1561.0,520.2 1562.0,520.3 1562.0,517.5 1564.0,517.5 1564.0,515.5 1565.0,515.5 1565.0,516.1 1566.5,516.2 1566.5,516.8 1569.0,516.9 1569.0,518.1 1570.5,518.2 1570.5,517.5 1572.5,517.5 1572.5,517.6 1575.0,517.7 1575.0,515.7 1576.0,515.8 1576.0,519.8 1577.5,519.9 1577.5,516.7 1580.0,516.8 1580.0,516.4 1581.0,516.4 1581.0,517.8 1583.5,517.9 1583.5,517.6 1585.0,517.7 1585.0,517.7 1587.5,517.8 1587.5,519.1 1590.0,519.2 1590.0,517.6 1591.5,517.6 1591.5,517.9 1593.0,518.0 1593.0,515.8 1595.5,515.9 1595.5,520.0 1597.0,520.0 1597.0,517.8 1598.5,517.9 1598.5,519.1 1600.0,519.2 1600.0,516.6 1601.5,516.7 1601.5,517.1 1603.0,517.2 1603.0,518.9 1605.5,519.0 1605.5,518.8 1607.5,518.9 1607.5,518.3 1609.0,518.3 1609.0,516.7 1610.0,516.7 1610.0,520.1 1611.5,520.2 1611.5,519.0 1613.0,519.1 1613.0,519.0 1615.5,519.1 1615.5,519.1 1616.5,519.1 1616.5,519.2 1618.0,519.2 1618.0,519.0 1619.0,519.1 1619.0,519.3 1620.0,519.3 1620.0,519.1 1621.5,519.2 1621.5,519.4 1623.5,519.5 1623.5,519.4 1625.0,519.4 1625.0,519.7 1627.5,519.8 1627.5,520.0 1629.0,520.1 1629.0,520.5 1630.5,520.6 1630.5,517.9 1632.0,518.0 1632.0,518.6 1632.5,518.6"/><polygon fill="#3a46a6" points="1030.4,498.3 1031.0,493.5 1031.5,478.0 1032.1,477.0 1036.5,477.0 1037.1,478.0 1037.6,493.5 1038.2,498.3"/><polygon fill="#3a46a6" points="1095.9,500.9 1096.5,496.1 1097.0,489.1 1097.6,488.1 1101.8,488.1 1102.4,489.1 1102.9,496.1 1103.5,500.9"/><polygon fill="#3a46a6" points="1235.2,506.5 1235.8,501.7 1236.3,495.7 1236.9,494.7 1241.1,494.7 1241.7,495.7 1242.2,501.7 1242.8,506.5"/><polygon fill="#3a46a6" points="1272.2,507.9 1272.8,503.1 1273.3,497.6 1273.9,496.6 1278.1,496.6 1278.7,497.6 1279.2,503.1 1279.8,507.9"/>
<polygon fill="#3a46a6" points="1522.8,517.3 1523.8,511.5 1524.1,502.7 1524.6,482.1 1524.8,370.5 1525.6,223.7 1529.6,223.7 1530.4,370.5 1530.6,482.1 1531.0,502.7 1531.4,511.5 1532.3,517.3"/>
<polygon fill="#050505" points="1200.0,-1.0 1335.8,3.7 1335.8,146.7 1200.0,142.0"/><g filter="url(#rough)"><ellipse cx="1266.9" cy="67.6" rx="34.2" ry="37.0" fill="url(#g2)"/><ellipse cx="1283.0" cy="60.5" rx="3.4" ry="5.5" fill="#fffef2" opacity="0.85" filter="url(#blur3)"/><ellipse cx="1252.6" cy="72.5" rx="3.2" ry="5.5" fill="#fffef2" opacity="0.8" filter="url(#blur3)"/><ellipse cx="1261.5" cy="49.5" rx="5.0" ry="3.2" fill="#fffef2" opacity="0.6" filter="url(#blur3)"/><ellipse cx="1275.0" cy="86.0" rx="5.5" ry="3.0" fill="#fffef2" opacity="0.45" filter="url(#blur3)"/></g><polygon fill="#0a0403" stroke="#efe314" stroke-width="2.2" points="1286.8,93.3 1333.1,95.3 1333.1,145.6 1286.8,143.5"/><g filter="url(#blur2)" clip-path="url(#ic1)"><path d="M1291.4,109.0 C1289.8,113.1 1290.3,125.4 1292.2,129.5 C1293.8,125.4 1293.3,113.1 1291.4,109.0 Z" fill="#e62a1a" opacity="0.3"/><path d="M1295.6,105.5 C1293.9,111.2 1295.2,128.3 1297.7,134.0 C1299.4,128.3 1298.1,111.2 1295.6,105.5 Z" fill="#e62a1a" opacity="0.9"/><path d="M1300.2,101.5 C1298.6,108.8 1300.7,130.7 1303.7,138.0 C1305.3,130.7 1303.2,108.8 1300.2,101.5 Z" fill="#e62a1a" opacity="1"/><path d="M1304.1,99.0 C1302.5,104.6 1304.9,112.5 1304.9,121.5 L1307.9,121.5 C1307.9,112.5 1305.7,104.6 1304.1,99.0 Z" fill="#e62a1a" opacity="1"/><path d="M1308.6,98.5 C1307.0,104.2 1306.7,112.3 1306.7,121.5 L1309.7,121.5 C1309.7,112.3 1310.2,104.2 1308.6,98.5 Z" fill="#e62a1a" opacity="1"/><path d="M1313.2,99.0 C1311.6,104.6 1308.7,112.5 1308.7,121.5 L1311.7,121.5 C1311.7,112.5 1314.8,104.6 1313.2,99.0 Z" fill="#e62a1a" opacity="1"/><path d="M1305.5,119.0 C1305.5,127.8 1304.7,135.5 1307.8,141.0 C1310.9,135.5 1311.1,127.8 1311.1,119.0 Z" fill="#e62a1a" opacity="1"/><path d="M1317.9,102.0 C1314.8,109.2 1312.3,130.8 1313.7,138.0 C1316.8,130.8 1319.3,109.2 1317.9,102.0 Z" fill="#e62a1a" opacity="1"/><path d="M1322.1,105.5 C1319.6,111.2 1318.3,128.3 1320.0,134.0 C1322.5,128.3 1323.8,111.2 1322.1,105.5 Z" fill="#e62a1a" opacity="0.9"/><path d="M1325.9,109.0 C1323.9,113.1 1323.4,125.4 1325.0,129.5 C1327.0,125.4 1327.5,113.1 1325.9,109.0 Z" fill="#e62a1a" opacity="0.3"/></g><text transform="translate(1208.70,133.64) scale(0.913,0.838)" style='font-family:"Liberation Sans","DejaVu Sans",sans-serif;font-style:italic' font-size="30" fill="#fff" >ℓ</text><text x="1215.9" y="138.2" fill="#fff" font-size="16">3</text><text x="1225.5" y="133.0" fill="#fff" font-size="24" textLength="49.9" lengthAdjust="spacingAndGlyphs">= +2</text>
<polygon fill="#050505" points="1372.0,56.4 1507.0,61.2 1507.0,203.6 1372.0,199.4"/><g filter="url(#rough)"><ellipse cx="1438.9" cy="124.9" rx="28.6" ry="31.0" fill="url(#g1)"/></g><polygon fill="#0a0403" stroke="#efe314" stroke-width="2.2" points="1459.8,149.0 1506.1,151.1 1506.1,202.6 1459.8,200.5"/><g filter="url(#blur2)" clip-path="url(#ic2)"><path d="M1466.4,159.5 C1464.7,164.9 1464.8,181.1 1466.6,186.5 C1468.3,181.1 1468.2,164.9 1466.4,159.5 Z" fill="#e62a1a" opacity="0.28"/><path d="M1471.5,156.5 C1468.8,163.2 1469.3,183.3 1472.2,190.0 C1473.8,183.3 1473.4,163.2 1471.5,156.5 Z" fill="#e62a1a" opacity="0.95"/><path d="M1476.2,153.5 C1473.4,161.5 1474.0,185.5 1477.2,193.5 C1478.9,185.5 1478.3,161.5 1476.2,153.5 Z" fill="#e62a1a" opacity="1"/><path d="M1480.8,152.5 C1479.1,157.8 1480.9,165.1 1480.9,173.5 L1484.1,173.5 C1484.1,165.1 1482.5,157.8 1480.8,152.5 Z" fill="#e62a1a" opacity="1"/><path d="M1486.0,152.5 C1484.3,157.8 1482.7,165.1 1482.7,173.5 L1485.9,173.5 C1485.9,165.1 1487.7,157.8 1486.0,152.5 Z" fill="#e62a1a" opacity="1"/><path d="M1481.2,170.5 C1481.2,180.3 1480.9,188.9 1483.3,195.0 C1485.7,188.9 1485.6,180.3 1485.6,170.5 Z" fill="#e62a1a" opacity="1"/><path d="M1490.6,153.5 C1488.5,161.5 1487.9,185.5 1489.6,193.5 C1492.8,185.5 1493.4,161.5 1490.6,153.5 Z" fill="#e62a1a" opacity="1"/><path d="M1496.0,156.5 C1494.1,163.2 1493.7,183.3 1495.3,190.0 C1498.2,183.3 1498.7,163.2 1496.0,156.5 Z" fill="#e62a1a" opacity="0.95"/><path d="M1500.8,159.5 C1499.0,164.9 1498.9,181.1 1500.6,186.5 C1502.4,181.1 1502.5,164.9 1500.8,159.5 Z" fill="#e62a1a" opacity="0.28"/></g><text transform="translate(1383.00,191.34) scale(0.951,0.842)" style='font-family:"Liberation Sans","DejaVu Sans",sans-serif;font-style:italic' font-size="30" fill="#fff" >ℓ</text><text x="1390.0" y="195.8" fill="#fff" font-size="16">2</text><text x="1400.2" y="190.8" fill="#fff" font-size="24" textLength="49.9" lengthAdjust="spacingAndGlyphs">= +1</text>
<polygon fill="#fbf4f3" points="1534.7,123.3 1669.2,123.3 1669.2,129"/>
<polygon fill="#050505" points="1534.7,123.3 1668.8,128.8 1668.8,271.0 1534.7,266.6"/><g filter="url(#rough)"><ellipse cx="1602.2" cy="191.7" rx="18.2" ry="20.8" fill="url(#g0)"/></g><polygon fill="#0a0403" stroke="#efe314" stroke-width="2.2" points="1618.2,213.2 1667.2,215.0 1667.2,269.1 1618.2,266.9"/><g filter="url(#blur2)" clip-path="url(#ic3)"><path d="M1624.0,224.5 C1622.4,230.5 1622.4,248.5 1624.0,254.5 C1625.6,248.5 1625.6,230.5 1624.0,224.5 Z" fill="#e62a1a" opacity="0.35"/><path d="M1629.2,220.5 C1626.8,228.1 1626.8,250.9 1629.2,258.5 C1631.6,250.9 1631.6,228.1 1629.2,220.5 Z" fill="#e62a1a" opacity="1"/><path d="M1634.7,218.5 C1632.1,226.9 1632.1,252.1 1634.7,260.5 C1637.3,252.1 1637.3,226.9 1634.7,218.5 Z" fill="#e62a1a" opacity="1"/><path d="M1640.2,218.0 C1637.4,226.6 1637.4,252.4 1640.2,261.0 C1643.0,252.4 1643.0,226.6 1640.2,218.0 Z" fill="#e62a1a" opacity="1"/><path d="M1646.0,218.5 C1643.4,226.9 1643.4,252.1 1646.0,260.5 C1648.6,252.1 1648.6,226.9 1646.0,218.5 Z" fill="#e62a1a" opacity="1"/><path d="M1651.7,221.0 C1649.3,228.4 1649.3,250.6 1651.7,258.0 C1654.1,250.6 1654.1,228.4 1651.7,221.0 Z" fill="#e62a1a" opacity="0.95"/><path d="M1657.4,224.5 C1655.8,230.5 1655.8,248.5 1657.4,254.5 C1659.0,248.5 1659.0,230.5 1657.4,224.5 Z" fill="#e62a1a" opacity="0.3"/><path d="M1634.9,228.5 C1633.8,231.5 1633.8,240.5 1634.9,243.5 C1636.0,240.5 1636.0,231.5 1634.9,228.5 Z" fill="#ff9090" opacity="0.8"/><path d="M1640.2,227.0 C1638.5,230.0 1638.7,239.0 1640.6,242.0 C1642.3,239.0 1642.1,230.0 1640.2,227.0 Z" fill="#fffaf0" opacity="1"/></g><text transform="translate(1551.70,256.64) scale(0.979,0.838)" style='font-family:"Liberation Sans","DejaVu Sans",sans-serif;font-style:italic' font-size="30" fill="#fff" >ℓ</text><text x="1559.3" y="260.8" fill="#fff" font-size="16">1</text><text x="1568.7" y="256.2" fill="#fff" font-size="24" textLength="35.7" lengthAdjust="spacingAndGlyphs">= 0</text>
<text x="899.8" y="205.8" font-size="24.3" text-anchor="end">1</text>
<text x="899.8" y="279.3" font-size="24.3" text-anchor="end">0.75</text>
<text x="899.8" y="353.5" font-size="24.3" text-anchor="end">0.5</text>
<text x="899.8" y="427.4" font-size="24.3" text-anchor="end">0.25</text>
<text x="899.8" y="500.9" font-size="24.3" text-anchor="end">0</text>
<text transform="translate(835,417.2) rotate(-90)" font-size="24.3" x="0" y="0" textLength="142.8" lengthAdjust="spacingAndGlyphs">Transmission</text>
<text x="964.6" y="531.3" font-size="24.3" textLength="93.7" lengthAdjust="spacingAndGlyphs">–208 nm</text>
<text x="1206.8" y="538.7" font-size="24.3" textLength="94.2" lengthAdjust="spacingAndGlyphs">–103 nm</text>
<text x="1468.4" y="545.7" font-size="24.3" textLength="52.3" lengthAdjust="spacingAndGlyphs">0 nm</text>
<text x="1106.3" y="576.5" font-size="24.3" textLength="302.5" lengthAdjust="spacingAndGlyphs">Variation of the cavity length</text>
<text transform="translate(1662.84,539.03) scale(1.111,0.779)" style='font-family:"Liberation Sans",sans-serif' font-size="30" fill="#000" >|</text><text transform="translate(1673.00,540.04) scale(0.913,0.833)" style='font-family:"Liberation Sans","DejaVu Sans",sans-serif;font-style:italic' font-size="30" fill="#000" >ℓ</text><text x="1683.2" y="539.6" font-size="24.3" textLength="35.5" lengthAdjust="spacingAndGlyphs">= 0</text><text transform="translate(1713.92,541.47) scale(1.231,1.032)" style='font-family:"DejaVu Sans",sans-serif' font-size="30" fill="#000" >⟩</text>
<text transform="translate(1741.02,472.52) scale(1.156,0.764)" style='font-family:"Liberation Sans",sans-serif' font-size="30" fill="#000" >|</text><text transform="translate(1751.40,473.93) scale(0.942,0.861)" style='font-family:"Liberation Sans","DejaVu Sans",sans-serif;font-style:italic' font-size="30" fill="#000" >ℓ</text><text x="1761.8" y="474.3" font-size="24.3" textLength="50.1" lengthAdjust="spacingAndGlyphs">= +1</text><text transform="translate(1807.57,475.32) scale(1.292,1.021)" style='font-family:"DejaVu Sans",sans-serif' font-size="30" fill="#000" >⟩</text>
<text transform="translate(1815.54,401.25) scale(1.111,0.761)" style='font-family:"Liberation Sans",sans-serif' font-size="30" fill="#000" >|</text><text transform="translate(1825.90,402.05) scale(0.904,0.809)" style='font-family:"Liberation Sans","DejaVu Sans",sans-serif;font-style:italic' font-size="30" fill="#000" >ℓ</text><text x="1838.4" y="401.0" font-size="24.3" textLength="50.1" lengthAdjust="spacingAndGlyphs">= +2</text><text transform="translate(1885.87,403.63) scale(1.292,1.017)" style='font-family:"DejaVu Sans",sans-serif' font-size="30" fill="#000" >⟩</text>
<line x1="1816.1" y1="412.7" x2="1825.9" y2="412.7" stroke="#000" stroke-width="2.3"/>
<text transform="translate(1722.4,598.3) rotate(-43.3)" font-size="24.3" x="0" y="0">Incident 0AM state</text>
</g>
</svg>
</body></html>
